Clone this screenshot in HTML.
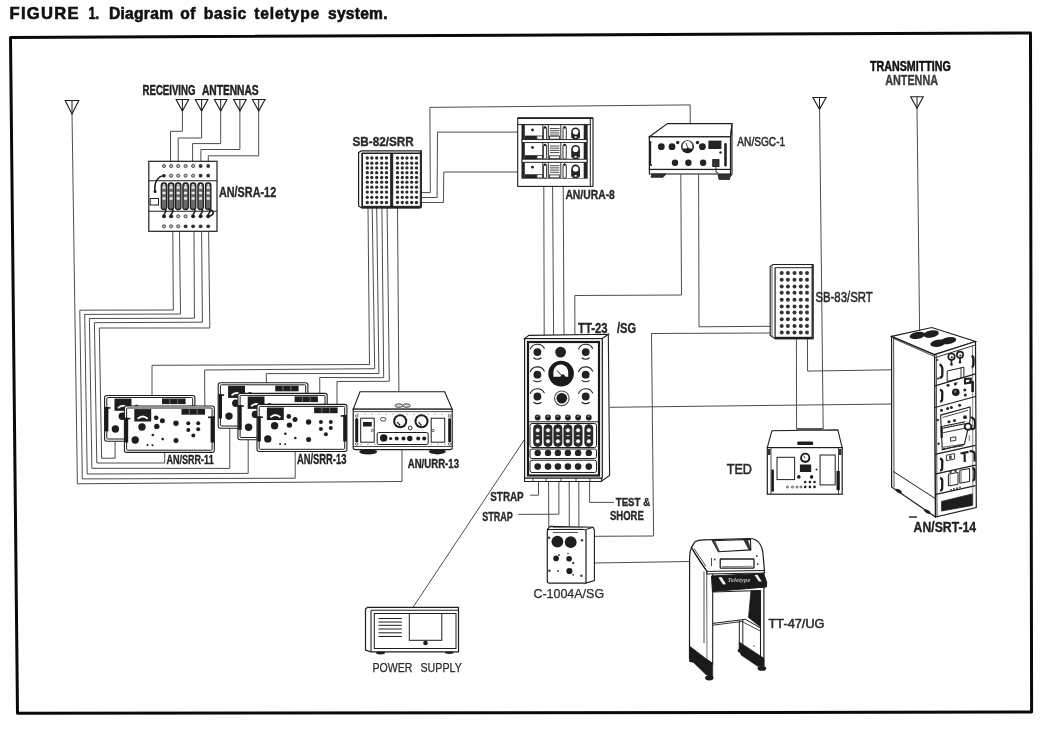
<!DOCTYPE html>
<html><head><meta charset="utf-8"><title>Figure 1</title>
<style>html,body{margin:0;padding:0;background:#fff;}svg{display:block;will-change:transform;}</style></head>
<body><svg width="1052" height="733" viewBox="0 0 1052 733" shape-rendering="geometricPrecision">
<rect width="1052" height="733" fill="#fff"/>
<text x="9.5" y="18.6" font-family="'Liberation Sans', sans-serif" font-weight="bold" font-size="16.60" textLength="69.0" lengthAdjust="spacing" fill="#111" stroke="#111" stroke-width="0.6">FIGURE</text>
<text x="88.4" y="18.6" font-family="'Liberation Sans', sans-serif" font-weight="bold" font-size="16.60" textLength="10.6" lengthAdjust="spacingAndGlyphs" fill="#111" stroke="#111" stroke-width="0.6">1.</text>
<text x="109.0" y="18.6" font-family="'Liberation Sans', sans-serif" font-weight="bold" font-size="15.60" textLength="64.0" lengthAdjust="spacing" fill="#111" stroke="#111" stroke-width="0.6">Diagram</text>
<text x="180.3" y="18.6" font-family="'Liberation Sans', sans-serif" font-weight="bold" font-size="15.60" textLength="15.2" lengthAdjust="spacing" fill="#111" stroke="#111" stroke-width="0.6">of</text>
<text x="203.8" y="18.6" font-family="'Liberation Sans', sans-serif" font-weight="bold" font-size="15.60" textLength="42.5" lengthAdjust="spacing" fill="#111" stroke="#111" stroke-width="0.6">basic</text>
<text x="254.2" y="18.6" font-family="'Liberation Sans', sans-serif" font-weight="bold" font-size="15.60" textLength="65.0" lengthAdjust="spacing" fill="#111" stroke="#111" stroke-width="0.6">teletype</text>
<text x="328.0" y="18.6" font-family="'Liberation Sans', sans-serif" font-weight="bold" font-size="15.60" textLength="59.5" lengthAdjust="spacing" fill="#111" stroke="#111" stroke-width="0.6">system.</text>
<polygon points="10.5,37.4 1030.5,32.9 1031.6,712.1 17.5,713.2" fill="none" stroke="#0a0a0a" stroke-width="3.0" stroke-linejoin="round"/>
<polygon points="65.2,100.5 78.8,100.5 72.0,114.0" fill="none" stroke="#1e1e1e" stroke-width="1.1" />
<line x1="72.0" y1="100.5" x2="72.0" y2="114.0" stroke="#1e1e1e" stroke-width="1.0"/>
<polygon points="176.1,99.5 188.7,99.5 182.4,111.0" fill="none" stroke="#1e1e1e" stroke-width="1.1" />
<line x1="182.4" y1="99.5" x2="182.4" y2="111.0" stroke="#1e1e1e" stroke-width="1.0"/>
<polygon points="195.3,99.5 207.9,99.5 201.6,111.0" fill="none" stroke="#1e1e1e" stroke-width="1.1" />
<line x1="201.6" y1="99.5" x2="201.6" y2="111.0" stroke="#1e1e1e" stroke-width="1.0"/>
<polygon points="214.4,99.5 227.0,99.5 220.7,111.0" fill="none" stroke="#1e1e1e" stroke-width="1.1" />
<line x1="220.7" y1="99.5" x2="220.7" y2="111.0" stroke="#1e1e1e" stroke-width="1.0"/>
<polygon points="233.6,99.5 246.2,99.5 239.9,111.0" fill="none" stroke="#1e1e1e" stroke-width="1.1" />
<line x1="239.9" y1="99.5" x2="239.9" y2="111.0" stroke="#1e1e1e" stroke-width="1.0"/>
<polygon points="252.4,99.5 265.0,99.5 258.7,111.0" fill="none" stroke="#1e1e1e" stroke-width="1.1" />
<line x1="258.7" y1="99.5" x2="258.7" y2="111.0" stroke="#1e1e1e" stroke-width="1.0"/>
<polygon points="812.9,97.5 826.1,97.5 819.5,109.3" fill="none" stroke="#1e1e1e" stroke-width="1.1" />
<line x1="819.5" y1="97.5" x2="819.5" y2="109.3" stroke="#1e1e1e" stroke-width="1.0"/>
<polygon points="910.7,96.8 923.3,96.8 917.0,108.3" fill="none" stroke="#1e1e1e" stroke-width="1.1" />
<line x1="917.0" y1="96.8" x2="917.0" y2="108.3" stroke="#1e1e1e" stroke-width="1.0"/>
<text x="142.6" y="94.7" font-family="'Liberation Sans', sans-serif" font-weight="bold" font-size="14.68" textLength="52.8" lengthAdjust="spacingAndGlyphs" fill="#222" stroke="#222" stroke-width="0.5">RECEIVING</text>
<text x="201.9" y="94.7" font-family="'Liberation Sans', sans-serif" font-weight="bold" font-size="14.68" textLength="56.8" lengthAdjust="spacingAndGlyphs" fill="#222" stroke="#222" stroke-width="0.5">ANTENNAS</text>
<text x="870.0" y="70.7" font-family="'Liberation Sans', sans-serif" font-weight="bold" font-size="13.81" textLength="80.8" lengthAdjust="spacingAndGlyphs" fill="#111" stroke="#111" stroke-width="0.5">TRANSMITTING</text>
<text x="885.2" y="85.4" font-family="'Liberation Sans', sans-serif" font-weight="bold" font-size="14.24" textLength="52.8" lengthAdjust="spacingAndGlyphs" fill="#3a3a3a" stroke="#3a3a3a" stroke-width="0.4">ANTENNA</text>
<polyline points="72.0,114.0 77.4,483.8 402.0,481.5 402.0,450.0" fill="none" stroke="#4d4d4d" stroke-width="1.0" />
<polyline points="182.4,111.0 182.4,131.3 170.5,131.3 170.5,161.5" fill="none" stroke="#4d4d4d" stroke-width="1.0" />
<polyline points="201.6,111.0 201.6,138.0 178.2,138.0 178.2,161.5" fill="none" stroke="#4d4d4d" stroke-width="1.0" />
<polyline points="220.7,111.0 220.7,143.6 192.6,143.6 192.6,161.5" fill="none" stroke="#4d4d4d" stroke-width="1.0" />
<polyline points="239.9,111.0 239.9,149.5 200.9,149.5 200.9,161.5" fill="none" stroke="#4d4d4d" stroke-width="1.0" />
<polyline points="258.7,111.0 258.7,155.8 208.3,155.8 208.3,161.5" fill="none" stroke="#4d4d4d" stroke-width="1.0" />
<polyline points="172.8,231.3 173.3,310.0 79.8,310.2 82.3,478.9 295.2,478.2 295.2,451.5" fill="none" stroke="#4d4d4d" stroke-width="1.0" />
<polyline points="179.5,231.3 180.5,314.0 84.7,314.4 87.2,474.0 248.2,473.4 248.2,439.7" fill="none" stroke="#4d4d4d" stroke-width="1.0" />
<polyline points="194.0,231.3 194.4,318.2 89.4,318.5 91.9,468.3 229.8,468.4 229.8,428.2" fill="none" stroke="#4d4d4d" stroke-width="1.0" />
<polyline points="201.6,231.3 202.4,322.2 94.4,322.7 96.8,463.0 164.7,463.0 164.7,452.4" fill="none" stroke="#4d4d4d" stroke-width="1.0" />
<polyline points="208.6,231.3 209.8,328.0 99.3,328.0 101.6,458.3 115.1,458.2 115.1,441.2" fill="none" stroke="#4d4d4d" stroke-width="1.0" />
<polyline points="368.0,208.0 369.5,364.5 152.0,365.3 152.0,395.5" fill="none" stroke="#4d4d4d" stroke-width="1.0" />
<polyline points="372.2,208.0 374.7,368.7 204.6,370.0 204.8,406.0" fill="none" stroke="#4d4d4d" stroke-width="1.0" />
<polyline points="376.7,208.0 378.9,373.5 266.2,373.6 266.4,382.8" fill="none" stroke="#4d4d4d" stroke-width="1.0" />
<polyline points="381.9,208.0 383.7,377.7 319.7,377.5 319.8,393.4" fill="none" stroke="#4d4d4d" stroke-width="1.0" />
<polyline points="387.1,208.0 389.3,381.3 337.0,381.5 337.0,404.4" fill="none" stroke="#4d4d4d" stroke-width="1.0" />
<polyline points="397.5,208.0 398.9,391.7" fill="none" stroke="#4d4d4d" stroke-width="1.0" />
<polyline points="421.4,192.6 430.3,192.6 429.9,107.4 690.2,104.9 690.2,123.6" fill="none" stroke="#4d4d4d" stroke-width="1.0" />
<polyline points="421.4,197.5 437.1,197.5 437.5,132.1 518.9,132.1" fill="none" stroke="#4d4d4d" stroke-width="1.0" />
<polyline points="421.4,202.5 443.4,202.5 443.8,172.0 518.9,172.0" fill="none" stroke="#4d4d4d" stroke-width="1.0" />
<polyline points="543.8,186.0 544.2,335.0" fill="none" stroke="#4d4d4d" stroke-width="1.0" />
<polyline points="552.6,186.0 553.6,335.0" fill="none" stroke="#4d4d4d" stroke-width="1.0" />
<polyline points="563.2,186.0 564.0,335.0" fill="none" stroke="#4d4d4d" stroke-width="1.0" />
<polyline points="680.8,174.5 681.5,295.0 574.8,295.5 574.9,335.0" fill="none" stroke="#4d4d4d" stroke-width="1.0" />
<polyline points="698.6,174.5 699.0,326.8 771.0,326.3" fill="none" stroke="#4d4d4d" stroke-width="1.0" />
<polyline points="771.0,333.0 651.5,333.5 653.6,536.0 594.5,536.3" fill="none" stroke="#4d4d4d" stroke-width="1.0" />
<polyline points="609.7,407.3 891.7,404.0" fill="none" stroke="#4d4d4d" stroke-width="1.0" />
<polyline points="796.4,338.7 796.6,429.0" fill="none" stroke="#4d4d4d" stroke-width="1.0" />
<polyline points="807.4,338.7 807.6,371.1 891.7,369.8" fill="none" stroke="#4d4d4d" stroke-width="1.0" />
<polyline points="819.6,109.3 823.2,429.0" fill="none" stroke="#4d4d4d" stroke-width="1.0" />
<polyline points="917.0,108.3 919.6,330.5" fill="none" stroke="#4d4d4d" stroke-width="1.0" />
<polyline points="538.5,481.0 538.5,495.2 530.0,495.2" fill="none" stroke="#4d4d4d" stroke-width="1.0" />
<polyline points="548.6,481.0 548.8,527.0" fill="none" stroke="#4d4d4d" stroke-width="1.0" />
<polyline points="558.9,481.0 558.9,514.2 518.3,514.4" fill="none" stroke="#4d4d4d" stroke-width="1.0" />
<polyline points="569.2,481.0 569.3,527.0" fill="none" stroke="#4d4d4d" stroke-width="1.0" />
<polyline points="578.8,481.0 578.9,527.5" fill="none" stroke="#4d4d4d" stroke-width="1.0" />
<polyline points="589.6,481.0 589.6,502.4 614.0,502.4" fill="none" stroke="#4d4d4d" stroke-width="1.0" />
<polyline points="525.5,438.0 413.0,607.3" fill="none" stroke="#4d4d4d" stroke-width="1.0" />
<polyline points="594.4,563.0 689.0,561.5" fill="none" stroke="#4d4d4d" stroke-width="1.0" />
<rect x="148.8" y="161.3" width="68.2" height="70.0" rx="0" fill="#fff" stroke="#1e1e1e" stroke-width="1.2"/>
<line x1="148.8" y1="180.7" x2="217.0" y2="180.7" stroke="#1e1e1e" stroke-width="1.1"/>
<line x1="148.8" y1="211.3" x2="217.0" y2="211.3" stroke="#1e1e1e" stroke-width="1.1"/>
<circle cx="164.0" cy="166.0" r="1.60" fill="#bbb" stroke="#333" stroke-width="0.8"/>
<circle cx="171.1" cy="166.0" r="1.60" fill="#bbb" stroke="#333" stroke-width="0.8"/>
<circle cx="171.1" cy="175.7" r="1.60" fill="#bbb" stroke="#333" stroke-width="0.8"/>
<circle cx="178.2" cy="166.0" r="1.60" fill="#bbb" stroke="#333" stroke-width="0.8"/>
<circle cx="178.2" cy="175.7" r="1.60" fill="#bbb" stroke="#333" stroke-width="0.8"/>
<circle cx="185.6" cy="166.0" r="1.60" fill="#bbb" stroke="#333" stroke-width="0.8"/>
<circle cx="185.6" cy="175.7" r="1.60" fill="#bbb" stroke="#333" stroke-width="0.8"/>
<circle cx="193.1" cy="166.0" r="1.60" fill="#bbb" stroke="#333" stroke-width="0.8"/>
<circle cx="193.1" cy="175.7" r="1.60" fill="#bbb" stroke="#333" stroke-width="0.8"/>
<circle cx="200.6" cy="166.0" r="1.90" fill="#333" stroke="none" stroke-width="1.0"/>
<circle cx="200.6" cy="175.7" r="1.90" fill="#333" stroke="none" stroke-width="1.0"/>
<circle cx="208.2" cy="166.0" r="1.90" fill="#333" stroke="none" stroke-width="1.0"/>
<circle cx="208.2" cy="175.7" r="1.90" fill="#333" stroke="none" stroke-width="1.0"/>
<rect x="161.3" y="183.0" width="5.4" height="26.5" rx="2.5" fill="#6a6a6a" stroke="#222" stroke-width="1.3"/>
<rect x="162.5" y="186.3" width="3.0" height="2.4" rx="0" fill="#eee"/>
<rect x="162.5" y="191.8" width="3.0" height="2.4" rx="0" fill="#eee"/>
<rect x="162.5" y="197.3" width="3.0" height="2.4" rx="0" fill="#eee"/>
<line x1="164.0" y1="184.0" x2="164.0" y2="186.0" stroke="#fff" stroke-width="1.2"/>
<rect x="168.4" y="183.0" width="5.4" height="26.5" rx="2.5" fill="#6a6a6a" stroke="#222" stroke-width="1.3"/>
<rect x="169.6" y="186.3" width="3.0" height="2.4" rx="0" fill="#eee"/>
<rect x="169.6" y="191.8" width="3.0" height="2.4" rx="0" fill="#eee"/>
<rect x="169.6" y="197.3" width="3.0" height="2.4" rx="0" fill="#eee"/>
<line x1="171.1" y1="184.0" x2="171.1" y2="186.0" stroke="#fff" stroke-width="1.2"/>
<rect x="175.5" y="183.0" width="5.4" height="26.5" rx="2.5" fill="#6a6a6a" stroke="#222" stroke-width="1.3"/>
<rect x="176.7" y="186.3" width="3.0" height="2.4" rx="0" fill="#eee"/>
<rect x="176.7" y="191.8" width="3.0" height="2.4" rx="0" fill="#eee"/>
<rect x="176.7" y="197.3" width="3.0" height="2.4" rx="0" fill="#eee"/>
<line x1="178.2" y1="184.0" x2="178.2" y2="186.0" stroke="#fff" stroke-width="1.2"/>
<rect x="182.9" y="183.0" width="5.4" height="26.5" rx="2.5" fill="#6a6a6a" stroke="#222" stroke-width="1.3"/>
<rect x="184.1" y="186.3" width="3.0" height="2.4" rx="0" fill="#eee"/>
<rect x="184.1" y="191.8" width="3.0" height="2.4" rx="0" fill="#eee"/>
<rect x="184.1" y="197.3" width="3.0" height="2.4" rx="0" fill="#eee"/>
<line x1="185.6" y1="184.0" x2="185.6" y2="186.0" stroke="#fff" stroke-width="1.2"/>
<rect x="190.4" y="183.0" width="5.4" height="26.5" rx="2.5" fill="#6a6a6a" stroke="#222" stroke-width="1.3"/>
<rect x="191.6" y="186.3" width="3.0" height="2.4" rx="0" fill="#eee"/>
<rect x="191.6" y="191.8" width="3.0" height="2.4" rx="0" fill="#eee"/>
<rect x="191.6" y="197.3" width="3.0" height="2.4" rx="0" fill="#eee"/>
<line x1="193.1" y1="184.0" x2="193.1" y2="186.0" stroke="#fff" stroke-width="1.2"/>
<rect x="197.9" y="183.0" width="5.4" height="26.5" rx="2.5" fill="#6a6a6a" stroke="#222" stroke-width="1.3"/>
<rect x="199.1" y="186.3" width="3.0" height="2.4" rx="0" fill="#eee"/>
<rect x="199.1" y="191.8" width="3.0" height="2.4" rx="0" fill="#eee"/>
<rect x="199.1" y="197.3" width="3.0" height="2.4" rx="0" fill="#eee"/>
<line x1="200.6" y1="184.0" x2="200.6" y2="186.0" stroke="#fff" stroke-width="1.2"/>
<rect x="205.5" y="183.0" width="5.4" height="26.5" rx="2.5" fill="#6a6a6a" stroke="#222" stroke-width="1.3"/>
<rect x="206.7" y="186.3" width="3.0" height="2.4" rx="0" fill="#eee"/>
<rect x="206.7" y="191.8" width="3.0" height="2.4" rx="0" fill="#eee"/>
<rect x="206.7" y="197.3" width="3.0" height="2.4" rx="0" fill="#eee"/>
<line x1="208.2" y1="184.0" x2="208.2" y2="186.0" stroke="#fff" stroke-width="1.2"/>
<path d="M164,175.7 C158,176 154,182 155,191" fill="none" stroke="#222" stroke-width="1.6"/>
<circle cx="164.0" cy="175.7" r="1.80" fill="#222" stroke="none" stroke-width="1.0"/>
<circle cx="155.0" cy="191.5" r="1.50" fill="#222" stroke="none" stroke-width="1.0"/>
<rect x="150.2" y="198.5" width="8.3" height="6.5" rx="0" fill="#fff" stroke="#1e1e1e" stroke-width="1.0"/>
<path d="M165,209 C168,212 163,213 164,216.3" fill="none" stroke="#222" stroke-width="1.6"/>
<circle cx="164.0" cy="216.3" r="2.00" fill="#222" stroke="none" stroke-width="1.0"/>
<path d="M172.1,209 C175.1,212 170.1,213 171.1,216.3" fill="none" stroke="#222" stroke-width="1.6"/>
<circle cx="171.1" cy="216.3" r="2.00" fill="#222" stroke="none" stroke-width="1.0"/>
<circle cx="178.2" cy="216.3" r="1.60" fill="#bbb" stroke="#333" stroke-width="0.8"/>
<circle cx="185.6" cy="216.3" r="1.60" fill="#bbb" stroke="#333" stroke-width="0.8"/>
<path d="M194.1,209 C197.1,212 192.1,213 193.1,216.3" fill="none" stroke="#222" stroke-width="1.6"/>
<circle cx="193.1" cy="216.3" r="2.00" fill="#222" stroke="none" stroke-width="1.0"/>
<path d="M201.6,209 C204.6,212 199.6,213 200.6,216.3" fill="none" stroke="#222" stroke-width="1.6"/>
<circle cx="200.6" cy="216.3" r="2.00" fill="#222" stroke="none" stroke-width="1.0"/>
<path d="M209.2,209 C212.2,212 207.2,213 208.2,216.3" fill="none" stroke="#222" stroke-width="1.6"/>
<circle cx="208.2" cy="216.3" r="2.00" fill="#222" stroke="none" stroke-width="1.0"/>
<path d="M208.2,209 C214,210 215,214 210,216" fill="none" stroke="#222" stroke-width="1.6"/>
<circle cx="164.0" cy="226.3" r="1.60" fill="#bbb" stroke="#333" stroke-width="0.8"/>
<circle cx="171.1" cy="226.3" r="1.60" fill="#bbb" stroke="#333" stroke-width="0.8"/>
<circle cx="178.2" cy="226.3" r="1.60" fill="#bbb" stroke="#333" stroke-width="0.8"/>
<circle cx="185.6" cy="226.3" r="1.90" fill="#333" stroke="none" stroke-width="1.0"/>
<circle cx="193.1" cy="226.3" r="1.90" fill="#333" stroke="none" stroke-width="1.0"/>
<circle cx="200.6" cy="226.3" r="1.90" fill="#333" stroke="none" stroke-width="1.0"/>
<circle cx="208.2" cy="226.3" r="1.90" fill="#333" stroke="none" stroke-width="1.0"/>
<polygon points="358.6,152.5 361.5,150.9 421.4,150.9 421.4,206.5 419.5,208.0 361.8,208.0 358.6,206.0" fill="#fff" stroke="#1e1e1e" stroke-width="1.2" />
<line x1="361.8" y1="153.0" x2="361.8" y2="208.0" stroke="#1e1e1e" stroke-width="1.0"/>
<line x1="361.8" y1="153.0" x2="421.0" y2="153.0" stroke="#1e1e1e" stroke-width="1.0"/>
<rect x="362.5" y="153.5" width="28.5" height="52.8" rx="0" fill="#fff" stroke="#1e1e1e" stroke-width="1.0"/>
<rect x="392.7" y="153.5" width="28.1" height="52.8" rx="0" fill="#fff" stroke="#1e1e1e" stroke-width="1.0"/>
<rect x="390.3" y="153.0" width="2.5" height="54.5" rx="0" fill="#222"/>
<rect x="361.8" y="206.3" width="59.6" height="2.0" rx="0" fill="#222"/>
<rect x="419.8" y="151.0" width="1.8" height="57.0" rx="0" fill="#333"/>
<circle cx="367.3" cy="158.0" r="1.65" fill="#2c2c2c" stroke="none" stroke-width="1.0"/>
<circle cx="371.8" cy="158.0" r="1.65" fill="#2c2c2c" stroke="none" stroke-width="1.0"/>
<circle cx="376.7" cy="158.0" r="1.65" fill="#2c2c2c" stroke="none" stroke-width="1.0"/>
<circle cx="381.7" cy="158.0" r="1.65" fill="#2c2c2c" stroke="none" stroke-width="1.0"/>
<circle cx="386.5" cy="158.0" r="1.65" fill="#2c2c2c" stroke="none" stroke-width="1.0"/>
<circle cx="397.5" cy="158.0" r="1.65" fill="#2c2c2c" stroke="none" stroke-width="1.0"/>
<circle cx="402.3" cy="158.0" r="1.65" fill="#2c2c2c" stroke="none" stroke-width="1.0"/>
<circle cx="406.9" cy="158.0" r="1.65" fill="#2c2c2c" stroke="none" stroke-width="1.0"/>
<circle cx="411.7" cy="158.0" r="1.65" fill="#2c2c2c" stroke="none" stroke-width="1.0"/>
<circle cx="416.5" cy="158.0" r="1.65" fill="#2c2c2c" stroke="none" stroke-width="1.0"/>
<circle cx="367.3" cy="163.2" r="1.65" fill="#2c2c2c" stroke="none" stroke-width="1.0"/>
<circle cx="371.8" cy="163.2" r="1.65" fill="#2c2c2c" stroke="none" stroke-width="1.0"/>
<circle cx="376.7" cy="163.2" r="1.65" fill="#2c2c2c" stroke="none" stroke-width="1.0"/>
<circle cx="381.7" cy="163.2" r="1.65" fill="#2c2c2c" stroke="none" stroke-width="1.0"/>
<circle cx="386.5" cy="163.2" r="1.65" fill="#2c2c2c" stroke="none" stroke-width="1.0"/>
<circle cx="397.5" cy="163.2" r="1.65" fill="#2c2c2c" stroke="none" stroke-width="1.0"/>
<circle cx="402.3" cy="163.2" r="1.65" fill="#2c2c2c" stroke="none" stroke-width="1.0"/>
<circle cx="406.9" cy="163.2" r="1.65" fill="#2c2c2c" stroke="none" stroke-width="1.0"/>
<circle cx="411.7" cy="163.2" r="1.65" fill="#2c2c2c" stroke="none" stroke-width="1.0"/>
<circle cx="416.5" cy="163.2" r="1.65" fill="#2c2c2c" stroke="none" stroke-width="1.0"/>
<circle cx="367.3" cy="167.9" r="1.65" fill="#2c2c2c" stroke="none" stroke-width="1.0"/>
<circle cx="371.8" cy="167.9" r="1.65" fill="#2c2c2c" stroke="none" stroke-width="1.0"/>
<circle cx="376.7" cy="167.9" r="1.65" fill="#2c2c2c" stroke="none" stroke-width="1.0"/>
<circle cx="381.7" cy="167.9" r="1.65" fill="#2c2c2c" stroke="none" stroke-width="1.0"/>
<circle cx="386.5" cy="167.9" r="1.65" fill="#2c2c2c" stroke="none" stroke-width="1.0"/>
<circle cx="397.5" cy="167.9" r="1.65" fill="#2c2c2c" stroke="none" stroke-width="1.0"/>
<circle cx="402.3" cy="167.9" r="1.65" fill="#2c2c2c" stroke="none" stroke-width="1.0"/>
<circle cx="406.9" cy="167.9" r="1.65" fill="#2c2c2c" stroke="none" stroke-width="1.0"/>
<circle cx="411.7" cy="167.9" r="1.65" fill="#2c2c2c" stroke="none" stroke-width="1.0"/>
<circle cx="416.5" cy="167.9" r="1.65" fill="#2c2c2c" stroke="none" stroke-width="1.0"/>
<circle cx="367.3" cy="172.7" r="1.65" fill="#2c2c2c" stroke="none" stroke-width="1.0"/>
<circle cx="371.8" cy="172.7" r="1.65" fill="#2c2c2c" stroke="none" stroke-width="1.0"/>
<circle cx="376.7" cy="172.7" r="1.65" fill="#2c2c2c" stroke="none" stroke-width="1.0"/>
<circle cx="381.7" cy="172.7" r="1.65" fill="#2c2c2c" stroke="none" stroke-width="1.0"/>
<circle cx="386.5" cy="172.7" r="1.65" fill="#2c2c2c" stroke="none" stroke-width="1.0"/>
<circle cx="397.5" cy="172.7" r="1.65" fill="#2c2c2c" stroke="none" stroke-width="1.0"/>
<circle cx="402.3" cy="172.7" r="1.65" fill="#2c2c2c" stroke="none" stroke-width="1.0"/>
<circle cx="406.9" cy="172.7" r="1.65" fill="#2c2c2c" stroke="none" stroke-width="1.0"/>
<circle cx="411.7" cy="172.7" r="1.65" fill="#2c2c2c" stroke="none" stroke-width="1.0"/>
<circle cx="416.5" cy="172.7" r="1.65" fill="#2c2c2c" stroke="none" stroke-width="1.0"/>
<circle cx="367.3" cy="177.5" r="1.65" fill="#2c2c2c" stroke="none" stroke-width="1.0"/>
<circle cx="371.8" cy="177.5" r="1.65" fill="#2c2c2c" stroke="none" stroke-width="1.0"/>
<circle cx="376.7" cy="177.5" r="1.65" fill="#2c2c2c" stroke="none" stroke-width="1.0"/>
<circle cx="381.7" cy="177.5" r="1.65" fill="#2c2c2c" stroke="none" stroke-width="1.0"/>
<circle cx="386.5" cy="177.5" r="1.65" fill="#2c2c2c" stroke="none" stroke-width="1.0"/>
<circle cx="397.5" cy="177.5" r="1.65" fill="#2c2c2c" stroke="none" stroke-width="1.0"/>
<circle cx="402.3" cy="177.5" r="1.65" fill="#2c2c2c" stroke="none" stroke-width="1.0"/>
<circle cx="406.9" cy="177.5" r="1.65" fill="#2c2c2c" stroke="none" stroke-width="1.0"/>
<circle cx="411.7" cy="177.5" r="1.65" fill="#2c2c2c" stroke="none" stroke-width="1.0"/>
<circle cx="416.5" cy="177.5" r="1.65" fill="#2c2c2c" stroke="none" stroke-width="1.0"/>
<circle cx="367.3" cy="182.2" r="1.65" fill="#2c2c2c" stroke="none" stroke-width="1.0"/>
<circle cx="371.8" cy="182.2" r="1.65" fill="#2c2c2c" stroke="none" stroke-width="1.0"/>
<circle cx="376.7" cy="182.2" r="1.65" fill="#2c2c2c" stroke="none" stroke-width="1.0"/>
<circle cx="381.7" cy="182.2" r="1.65" fill="#2c2c2c" stroke="none" stroke-width="1.0"/>
<circle cx="386.5" cy="182.2" r="1.65" fill="#2c2c2c" stroke="none" stroke-width="1.0"/>
<circle cx="397.5" cy="182.2" r="1.65" fill="#2c2c2c" stroke="none" stroke-width="1.0"/>
<circle cx="402.3" cy="182.2" r="1.65" fill="#2c2c2c" stroke="none" stroke-width="1.0"/>
<circle cx="406.9" cy="182.2" r="1.65" fill="#2c2c2c" stroke="none" stroke-width="1.0"/>
<circle cx="411.7" cy="182.2" r="1.65" fill="#2c2c2c" stroke="none" stroke-width="1.0"/>
<circle cx="416.5" cy="182.2" r="1.65" fill="#2c2c2c" stroke="none" stroke-width="1.0"/>
<circle cx="367.3" cy="187.2" r="1.65" fill="#2c2c2c" stroke="none" stroke-width="1.0"/>
<circle cx="371.8" cy="187.2" r="1.65" fill="#2c2c2c" stroke="none" stroke-width="1.0"/>
<circle cx="376.7" cy="187.2" r="1.65" fill="#2c2c2c" stroke="none" stroke-width="1.0"/>
<circle cx="381.7" cy="187.2" r="1.65" fill="#2c2c2c" stroke="none" stroke-width="1.0"/>
<circle cx="386.5" cy="187.2" r="1.65" fill="#2c2c2c" stroke="none" stroke-width="1.0"/>
<circle cx="397.5" cy="187.2" r="1.65" fill="#2c2c2c" stroke="none" stroke-width="1.0"/>
<circle cx="402.3" cy="187.2" r="1.65" fill="#2c2c2c" stroke="none" stroke-width="1.0"/>
<circle cx="406.9" cy="187.2" r="1.65" fill="#2c2c2c" stroke="none" stroke-width="1.0"/>
<circle cx="411.7" cy="187.2" r="1.65" fill="#2c2c2c" stroke="none" stroke-width="1.0"/>
<circle cx="416.5" cy="187.2" r="1.65" fill="#2c2c2c" stroke="none" stroke-width="1.0"/>
<circle cx="367.3" cy="192.1" r="1.65" fill="#2c2c2c" stroke="none" stroke-width="1.0"/>
<circle cx="371.8" cy="192.1" r="1.65" fill="#2c2c2c" stroke="none" stroke-width="1.0"/>
<circle cx="376.7" cy="192.1" r="1.65" fill="#2c2c2c" stroke="none" stroke-width="1.0"/>
<circle cx="381.7" cy="192.1" r="1.65" fill="#2c2c2c" stroke="none" stroke-width="1.0"/>
<circle cx="386.5" cy="192.1" r="1.65" fill="#2c2c2c" stroke="none" stroke-width="1.0"/>
<circle cx="397.5" cy="192.1" r="1.65" fill="#2c2c2c" stroke="none" stroke-width="1.0"/>
<circle cx="402.3" cy="192.1" r="1.65" fill="#2c2c2c" stroke="none" stroke-width="1.0"/>
<circle cx="406.9" cy="192.1" r="1.65" fill="#2c2c2c" stroke="none" stroke-width="1.0"/>
<circle cx="411.7" cy="192.1" r="1.65" fill="#2c2c2c" stroke="none" stroke-width="1.0"/>
<circle cx="416.5" cy="192.1" r="1.65" fill="#2c2c2c" stroke="none" stroke-width="1.0"/>
<circle cx="367.3" cy="197.3" r="1.65" fill="#2c2c2c" stroke="none" stroke-width="1.0"/>
<circle cx="371.8" cy="197.3" r="1.65" fill="#2c2c2c" stroke="none" stroke-width="1.0"/>
<circle cx="376.7" cy="197.3" r="1.65" fill="#2c2c2c" stroke="none" stroke-width="1.0"/>
<circle cx="381.7" cy="197.3" r="1.65" fill="#2c2c2c" stroke="none" stroke-width="1.0"/>
<circle cx="386.5" cy="197.3" r="1.65" fill="#2c2c2c" stroke="none" stroke-width="1.0"/>
<circle cx="397.5" cy="197.3" r="1.65" fill="#2c2c2c" stroke="none" stroke-width="1.0"/>
<circle cx="402.3" cy="197.3" r="1.65" fill="#2c2c2c" stroke="none" stroke-width="1.0"/>
<circle cx="406.9" cy="197.3" r="1.65" fill="#2c2c2c" stroke="none" stroke-width="1.0"/>
<circle cx="411.7" cy="197.3" r="1.65" fill="#2c2c2c" stroke="none" stroke-width="1.0"/>
<circle cx="416.5" cy="197.3" r="1.65" fill="#2c2c2c" stroke="none" stroke-width="1.0"/>
<circle cx="367.3" cy="202.5" r="1.65" fill="#2c2c2c" stroke="none" stroke-width="1.0"/>
<circle cx="371.8" cy="202.5" r="1.65" fill="#2c2c2c" stroke="none" stroke-width="1.0"/>
<circle cx="376.7" cy="202.5" r="1.65" fill="#2c2c2c" stroke="none" stroke-width="1.0"/>
<circle cx="381.7" cy="202.5" r="1.65" fill="#2c2c2c" stroke="none" stroke-width="1.0"/>
<circle cx="386.5" cy="202.5" r="1.65" fill="#2c2c2c" stroke="none" stroke-width="1.0"/>
<circle cx="397.5" cy="202.5" r="1.65" fill="#2c2c2c" stroke="none" stroke-width="1.0"/>
<circle cx="402.3" cy="202.5" r="1.65" fill="#2c2c2c" stroke="none" stroke-width="1.0"/>
<circle cx="406.9" cy="202.5" r="1.65" fill="#2c2c2c" stroke="none" stroke-width="1.0"/>
<circle cx="411.7" cy="202.5" r="1.65" fill="#2c2c2c" stroke="none" stroke-width="1.0"/>
<circle cx="416.5" cy="202.5" r="1.65" fill="#2c2c2c" stroke="none" stroke-width="1.0"/>
<rect x="517.7" y="118.2" width="75.3" height="68.2" rx="0" fill="#fff" stroke="#1e1e1e" stroke-width="1.1"/>
<line x1="517.7" y1="118.2" x2="593.0" y2="118.2" stroke="#1e1e1e" stroke-width="1.8"/>
<line x1="517.7" y1="124.6" x2="590.3" y2="124.6" stroke="#1e1e1e" stroke-width="1.0"/>
<line x1="590.3" y1="118.2" x2="590.3" y2="186.4" stroke="#1e1e1e" stroke-width="1.0"/>
<rect x="521.5" y="124.7" width="66.1" height="54.0" rx="0" fill="#222"/>
<rect x="524.8" y="125.2" width="58.9" height="14.3" rx="0" fill="#fff"/>
<circle cx="532.5" cy="130.0" r="1.40" fill="#222" stroke="none" stroke-width="1.0"/>
<rect x="524.8" y="135.6" width="12.0" height="3.9" rx="0" fill="#222"/>
<rect x="537.0" y="136.0" width="5.6" height="3.2" rx="0" fill="#fff" stroke="#1e1e1e" stroke-width="0.7"/>
<line x1="542.8" y1="125.2" x2="542.8" y2="139.5" stroke="#1e1e1e" stroke-width="0.9"/>
<rect x="543.4" y="127.0" width="3.2" height="12.5" rx="1.2" fill="#fff" stroke="#1e1e1e" stroke-width="0.9"/>
<circle cx="545.0" cy="127.5" r="1.20" fill="#222" stroke="none" stroke-width="1.0"/>
<line x1="548.3" y1="125.2" x2="548.3" y2="139.5" stroke="#1e1e1e" stroke-width="0.9"/>
<line x1="560.8" y1="125.2" x2="560.8" y2="139.5" stroke="#1e1e1e" stroke-width="0.9"/>
<line x1="549.8" y1="128.5" x2="559.4" y2="128.5" stroke="#1e1e1e" stroke-width="0.8"/>
<line x1="549.8" y1="130.7" x2="559.4" y2="130.7" stroke="#1e1e1e" stroke-width="0.8"/>
<line x1="549.8" y1="132.9" x2="559.4" y2="132.9" stroke="#1e1e1e" stroke-width="0.8"/>
<line x1="549.8" y1="135.1" x2="559.4" y2="135.1" stroke="#1e1e1e" stroke-width="0.8"/>
<rect x="549.5" y="136.2" width="10.1" height="2.9" rx="0" fill="#fff" stroke="#1e1e1e" stroke-width="0.8"/>
<rect x="563.0" y="127.0" width="3.3" height="12.5" rx="1.2" fill="#fff" stroke="#1e1e1e" stroke-width="0.9"/>
<circle cx="564.6" cy="127.5" r="1.20" fill="#222" stroke="none" stroke-width="1.0"/>
<path d="M571.2,138.0 L571.2,131.8 A4.4,4.4 0 0 1 580,131.8 L580,138.0 Z" fill="#222" stroke="#1e1e1e" stroke-width="0"/>
<circle cx="575.6" cy="131.8" r="2.80" fill="#fff" stroke="none" stroke-width="1.0"/>
<rect x="574.6" y="136.3" width="2.0" height="3.2" rx="0" fill="#fff"/>
<rect x="572.6" y="137.9" width="6.0" height="1.6" rx="0" fill="#222"/>
<rect x="524.8" y="142.7" width="58.9" height="16.4" rx="0" fill="#fff"/>
<circle cx="532.5" cy="147.5" r="1.40" fill="#222" stroke="none" stroke-width="1.0"/>
<rect x="524.8" y="155.2" width="12.0" height="3.9" rx="0" fill="#222"/>
<rect x="537.0" y="155.6" width="5.6" height="3.2" rx="0" fill="#fff" stroke="#1e1e1e" stroke-width="0.7"/>
<line x1="542.8" y1="142.7" x2="542.8" y2="159.1" stroke="#1e1e1e" stroke-width="0.9"/>
<rect x="543.4" y="144.5" width="3.2" height="14.6" rx="1.2" fill="#fff" stroke="#1e1e1e" stroke-width="0.9"/>
<circle cx="545.0" cy="145.0" r="1.20" fill="#222" stroke="none" stroke-width="1.0"/>
<line x1="548.3" y1="142.7" x2="548.3" y2="159.1" stroke="#1e1e1e" stroke-width="0.9"/>
<line x1="560.8" y1="142.7" x2="560.8" y2="159.1" stroke="#1e1e1e" stroke-width="0.9"/>
<line x1="549.8" y1="146.0" x2="559.4" y2="146.0" stroke="#1e1e1e" stroke-width="0.8"/>
<line x1="549.8" y1="148.2" x2="559.4" y2="148.2" stroke="#1e1e1e" stroke-width="0.8"/>
<line x1="549.8" y1="150.4" x2="559.4" y2="150.4" stroke="#1e1e1e" stroke-width="0.8"/>
<line x1="549.8" y1="152.6" x2="559.4" y2="152.6" stroke="#1e1e1e" stroke-width="0.8"/>
<rect x="549.5" y="155.8" width="10.1" height="2.9" rx="0" fill="#fff" stroke="#1e1e1e" stroke-width="0.8"/>
<rect x="563.0" y="144.5" width="3.3" height="14.6" rx="1.2" fill="#fff" stroke="#1e1e1e" stroke-width="0.9"/>
<circle cx="564.6" cy="145.0" r="1.20" fill="#222" stroke="none" stroke-width="1.0"/>
<path d="M571.2,157.6 L571.2,149.29999999999998 A4.4,4.4 0 0 1 580,149.29999999999998 L580,157.6 Z" fill="#222" stroke="#1e1e1e" stroke-width="0"/>
<circle cx="575.6" cy="149.3" r="2.80" fill="#fff" stroke="none" stroke-width="1.0"/>
<rect x="574.6" y="155.9" width="2.0" height="3.2" rx="0" fill="#fff"/>
<rect x="572.6" y="157.5" width="6.0" height="1.6" rx="0" fill="#222"/>
<rect x="524.8" y="162.4" width="58.9" height="15.8" rx="0" fill="#fff"/>
<circle cx="532.5" cy="167.2" r="1.40" fill="#222" stroke="none" stroke-width="1.0"/>
<rect x="524.8" y="174.3" width="12.0" height="3.9" rx="0" fill="#222"/>
<rect x="537.0" y="174.7" width="5.6" height="3.2" rx="0" fill="#fff" stroke="#1e1e1e" stroke-width="0.7"/>
<line x1="542.8" y1="162.4" x2="542.8" y2="178.2" stroke="#1e1e1e" stroke-width="0.9"/>
<rect x="543.4" y="164.2" width="3.2" height="14.0" rx="1.2" fill="#fff" stroke="#1e1e1e" stroke-width="0.9"/>
<circle cx="545.0" cy="164.7" r="1.20" fill="#222" stroke="none" stroke-width="1.0"/>
<line x1="548.3" y1="162.4" x2="548.3" y2="178.2" stroke="#1e1e1e" stroke-width="0.9"/>
<line x1="560.8" y1="162.4" x2="560.8" y2="178.2" stroke="#1e1e1e" stroke-width="0.9"/>
<line x1="549.8" y1="165.7" x2="559.4" y2="165.7" stroke="#1e1e1e" stroke-width="0.8"/>
<line x1="549.8" y1="167.9" x2="559.4" y2="167.9" stroke="#1e1e1e" stroke-width="0.8"/>
<line x1="549.8" y1="170.1" x2="559.4" y2="170.1" stroke="#1e1e1e" stroke-width="0.8"/>
<line x1="549.8" y1="172.3" x2="559.4" y2="172.3" stroke="#1e1e1e" stroke-width="0.8"/>
<rect x="549.5" y="174.9" width="10.1" height="2.9" rx="0" fill="#fff" stroke="#1e1e1e" stroke-width="0.8"/>
<rect x="563.0" y="164.2" width="3.3" height="14.0" rx="1.2" fill="#fff" stroke="#1e1e1e" stroke-width="0.9"/>
<circle cx="564.6" cy="164.7" r="1.20" fill="#222" stroke="none" stroke-width="1.0"/>
<path d="M571.2,176.7 L571.2,169.0 A4.4,4.4 0 0 1 580,169.0 L580,176.7 Z" fill="#222" stroke="#1e1e1e" stroke-width="0"/>
<circle cx="575.6" cy="169.0" r="2.80" fill="#fff" stroke="none" stroke-width="1.0"/>
<rect x="574.6" y="175.0" width="2.0" height="3.2" rx="0" fill="#fff"/>
<rect x="572.6" y="176.6" width="6.0" height="1.6" rx="0" fill="#222"/>
<rect x="522.0" y="139.6" width="65.0" height="3.0" rx="0" fill="#fff" stroke="#1e1e1e" stroke-width="0.9"/>
<rect x="522.0" y="159.2" width="65.0" height="3.1" rx="0" fill="#fff" stroke="#1e1e1e" stroke-width="0.9"/>
<polygon points="649.4,136.8 667.4,123.6 732.0,123.6 730.5,136.8" fill="#fff" stroke="#1e1e1e" stroke-width="1.1" />
<polygon points="730.5,136.8 732.0,123.6 732.0,174.0 730.5,176.0" fill="#fff" stroke="#1e1e1e" stroke-width="1.1" />
<rect x="649.4" y="136.8" width="81.1" height="32.7" rx="0" fill="#fff" stroke="#1e1e1e" stroke-width="1.3"/>
<rect x="649.4" y="169.5" width="81.1" height="4.5" rx="0" fill="#fff" stroke="#1e1e1e" stroke-width="1.1"/>
<polygon points="652.0,174.0 666.0,174.0 663.0,177.3 651.0,177.3" fill="#333" stroke="#1e1e1e" stroke-width="0.8" />
<polygon points="718.0,174.5 729.7,174.5 729.7,179.4 719.0,179.4" fill="#333" stroke="#1e1e1e" stroke-width="0.8" />
<circle cx="661.3" cy="146.7" r="3.40" fill="#222" stroke="none" stroke-width="1.0"/>
<circle cx="672.0" cy="146.7" r="3.40" fill="#222" stroke="none" stroke-width="1.0"/>
<circle cx="702.4" cy="146.7" r="3.40" fill="#222" stroke="none" stroke-width="1.0"/>
<circle cx="677.7" cy="142.5" r="1.70" fill="#222" stroke="none" stroke-width="1.0"/>
<circle cx="697.5" cy="142.5" r="1.70" fill="#222" stroke="none" stroke-width="1.0"/>
<circle cx="687.5" cy="146.7" r="6.50" fill="#1e1e1e" stroke="none" stroke-width="1.0"/>
<path d="M682.6,148.5 L682.6,146 A4.9,4.9 0 0 1 692.4,146 L692.4,148.5 L689.5,148.5 Q688,146.5 686.5,148.5 Z" fill="#fff" stroke="#1e1e1e" stroke-width="0"/>
<line x1="687.8" y1="148.0" x2="686.0" y2="142.8" stroke="#1e1e1e" stroke-width="0.8"/>
<rect x="708.4" y="140.6" width="13.0" height="8.4" rx="0" fill="#222"/>
<circle cx="675.0" cy="162.7" r="3.20" fill="#222" stroke="none" stroke-width="1.0"/>
<circle cx="688.4" cy="162.7" r="3.20" fill="#222" stroke="none" stroke-width="1.0"/>
<circle cx="703.1" cy="162.7" r="3.20" fill="#222" stroke="none" stroke-width="1.0"/>
<rect x="712.7" y="159.6" width="6.3" height="6.9" rx="0" fill="#333" stroke="#1e1e1e" stroke-width="0.9"/>
<path d="M716,166.5 L716,172 L718,173" fill="none" stroke="#1e1e1e" stroke-width="0.9"/>
<rect x="724.2" y="143.0" width="2.6" height="23.5" rx="1.2" fill="#222"/>
<circle cx="720.5" cy="152.5" r="1.20" fill="#222" stroke="none" stroke-width="1.0"/>
<path d="M651.5,142 L650.5,142 L650.5,165 L652,165" fill="none" stroke="#1e1e1e" stroke-width="1.3"/>
<polygon points="524.6,338.6 528.8,335.4 608.3,334.3 602.3,338.6" fill="#fff" stroke="#1e1e1e" stroke-width="1.1" />
<polygon points="602.3,338.6 608.3,334.3 609.6,475.5 601.4,481.3" fill="#fff" stroke="#1e1e1e" stroke-width="1.1" />
<line x1="599.2" y1="339.0" x2="599.2" y2="478.0" stroke="#1e1e1e" stroke-width="0.9"/>
<rect x="524.6" y="338.6" width="77.7" height="139.6" rx="0" fill="#fff" stroke="#1e1e1e" stroke-width="1.2"/>
<rect x="524.5" y="478.2" width="76.9" height="3.3" rx="0" fill="#fff" stroke="#1e1e1e" stroke-width="1.0"/>
<line x1="533.0" y1="478.2" x2="533.0" y2="481.5" stroke="#1e1e1e" stroke-width="0.8"/>
<line x1="546.0" y1="478.2" x2="546.0" y2="481.5" stroke="#1e1e1e" stroke-width="0.8"/>
<line x1="561.0" y1="478.2" x2="561.0" y2="481.5" stroke="#1e1e1e" stroke-width="0.8"/>
<line x1="576.0" y1="478.2" x2="576.0" y2="481.5" stroke="#1e1e1e" stroke-width="0.8"/>
<line x1="590.0" y1="478.2" x2="590.0" y2="481.5" stroke="#1e1e1e" stroke-width="0.8"/>
<rect x="528.0" y="342.0" width="71.0" height="133.5" rx="0" fill="none" stroke="#1a1a1a" stroke-width="2.2"/>
<circle cx="537.4" cy="352.1" r="3.90" fill="#222" stroke="none" stroke-width="1.0"/>
<path d="M530.1,349.4 A7.8,7.8 0 0 1 544.5,348.8" fill="none" stroke="#1e1e1e" stroke-width="1.1"/>
<path d="M541.4,357.8 A7.0,7.0 0 0 1 533.4,357.8" fill="none" stroke="#1e1e1e" stroke-width="1.1"/>
<circle cx="537.4" cy="374.7" r="3.90" fill="#222" stroke="none" stroke-width="1.0"/>
<path d="M530.1,372.0 A7.8,7.8 0 0 1 544.5,371.4" fill="none" stroke="#1e1e1e" stroke-width="1.1"/>
<path d="M541.4,380.4 A7.0,7.0 0 0 1 533.4,380.4" fill="none" stroke="#1e1e1e" stroke-width="1.1"/>
<circle cx="537.4" cy="396.5" r="3.90" fill="#222" stroke="none" stroke-width="1.0"/>
<path d="M530.1,393.8 A7.8,7.8 0 0 1 544.5,393.2" fill="none" stroke="#1e1e1e" stroke-width="1.1"/>
<path d="M541.4,402.2 A7.0,7.0 0 0 1 533.4,402.2" fill="none" stroke="#1e1e1e" stroke-width="1.1"/>
<circle cx="585.7" cy="352.1" r="3.90" fill="#222" stroke="none" stroke-width="1.0"/>
<path d="M578.4,349.4 A7.8,7.8 0 0 1 592.8,348.8" fill="none" stroke="#1e1e1e" stroke-width="1.1"/>
<path d="M589.7,357.8 A7.0,7.0 0 0 1 581.7,357.8" fill="none" stroke="#1e1e1e" stroke-width="1.1"/>
<circle cx="585.7" cy="374.7" r="3.90" fill="#222" stroke="none" stroke-width="1.0"/>
<path d="M578.4,372.0 A7.8,7.8 0 0 1 592.8,371.4" fill="none" stroke="#1e1e1e" stroke-width="1.1"/>
<path d="M589.7,380.4 A7.0,7.0 0 0 1 581.7,380.4" fill="none" stroke="#1e1e1e" stroke-width="1.1"/>
<circle cx="585.7" cy="396.5" r="3.90" fill="#222" stroke="none" stroke-width="1.0"/>
<path d="M578.4,393.8 A7.8,7.8 0 0 1 592.8,393.2" fill="none" stroke="#1e1e1e" stroke-width="1.1"/>
<path d="M589.7,402.2 A7.0,7.0 0 0 1 581.7,402.2" fill="none" stroke="#1e1e1e" stroke-width="1.1"/>
<circle cx="560.6" cy="352.1" r="5.40" fill="#222" stroke="none" stroke-width="1.0"/>
<circle cx="561.1" cy="373.6" r="12.80" fill="#1a1a1a" stroke="none" stroke-width="1.0"/>
<path d="M553.4,376.8 L553.4,372 A7.4,7.4 0 0 1 568.2,372 L568.2,376.8 L565.5,376.8 Q564.5,374 562.5,374.2 Q561,374 560.5,376.8 Z" fill="#fff" stroke="#1e1e1e" stroke-width="0"/>
<line x1="561.5" y1="375.5" x2="557.0" y2="370.5" stroke="#1e1e1e" stroke-width="1.0"/>
<circle cx="561.8" cy="398.3" r="7.30" fill="#fff" stroke="#555" stroke-width="1.2"/>
<circle cx="561.8" cy="398.3" r="5.30" fill="#1e1e1e" stroke="none" stroke-width="1.0"/>
<circle cx="537.7" cy="417.5" r="2.90" fill="#222" stroke="none" stroke-width="1.0"/>
<line x1="536.5" y1="416.5" x2="538.7" y2="415.8" stroke="#fff" stroke-width="0.6"/>
<circle cx="548.0" cy="417.5" r="2.90" fill="#222" stroke="none" stroke-width="1.0"/>
<line x1="546.8" y1="416.5" x2="549.0" y2="415.8" stroke="#fff" stroke-width="0.6"/>
<circle cx="557.9" cy="417.5" r="2.90" fill="#222" stroke="none" stroke-width="1.0"/>
<line x1="556.7" y1="416.5" x2="558.9" y2="415.8" stroke="#fff" stroke-width="0.6"/>
<circle cx="567.9" cy="417.5" r="2.90" fill="#222" stroke="none" stroke-width="1.0"/>
<line x1="566.7" y1="416.5" x2="568.9" y2="415.8" stroke="#fff" stroke-width="0.6"/>
<circle cx="578.1" cy="417.5" r="2.90" fill="#222" stroke="none" stroke-width="1.0"/>
<line x1="576.9" y1="416.5" x2="579.1" y2="415.8" stroke="#fff" stroke-width="0.6"/>
<circle cx="588.8" cy="417.5" r="2.90" fill="#222" stroke="none" stroke-width="1.0"/>
<line x1="587.6" y1="416.5" x2="589.8" y2="415.8" stroke="#fff" stroke-width="0.6"/>
<line x1="528.5" y1="421.8" x2="598.0" y2="421.8" stroke="#1e1e1e" stroke-width="1.0"/>
<rect x="530.0" y="423.5" width="66.5" height="24.0" rx="2" fill="#fff" stroke="#1e1e1e" stroke-width="1.0"/>
<rect x="533.8" y="424.8" width="7.8" height="21.5" rx="3.2" fill="#2a2a2a" stroke="#1e1e1e" stroke-width="1.0"/>
<circle cx="537.7" cy="430.2" r="2.30" fill="#fff" stroke="#222" stroke-width="0.6"/>
<circle cx="537.7" cy="441.2" r="2.30" fill="#fff" stroke="#222" stroke-width="0.6"/>
<line x1="536.2" y1="435.7" x2="539.2" y2="435.7" stroke="#fff" stroke-width="1.0"/>
<rect x="544.1" y="424.8" width="7.8" height="21.5" rx="3.2" fill="#2a2a2a" stroke="#1e1e1e" stroke-width="1.0"/>
<circle cx="548.0" cy="430.2" r="2.30" fill="#fff" stroke="#222" stroke-width="0.6"/>
<circle cx="548.0" cy="441.2" r="2.30" fill="#fff" stroke="#222" stroke-width="0.6"/>
<line x1="546.5" y1="435.7" x2="549.5" y2="435.7" stroke="#fff" stroke-width="1.0"/>
<rect x="554.0" y="424.8" width="7.8" height="21.5" rx="3.2" fill="#2a2a2a" stroke="#1e1e1e" stroke-width="1.0"/>
<circle cx="557.9" cy="430.2" r="2.30" fill="#fff" stroke="#222" stroke-width="0.6"/>
<circle cx="557.9" cy="441.2" r="2.30" fill="#fff" stroke="#222" stroke-width="0.6"/>
<line x1="556.4" y1="435.7" x2="559.4" y2="435.7" stroke="#fff" stroke-width="1.0"/>
<rect x="564.0" y="424.8" width="7.8" height="21.5" rx="3.2" fill="#2a2a2a" stroke="#1e1e1e" stroke-width="1.0"/>
<circle cx="567.9" cy="430.2" r="2.30" fill="#fff" stroke="#222" stroke-width="0.6"/>
<circle cx="567.9" cy="441.2" r="2.30" fill="#fff" stroke="#222" stroke-width="0.6"/>
<line x1="566.4" y1="435.7" x2="569.4" y2="435.7" stroke="#fff" stroke-width="1.0"/>
<rect x="574.2" y="424.8" width="7.8" height="21.5" rx="3.2" fill="#2a2a2a" stroke="#1e1e1e" stroke-width="1.0"/>
<circle cx="578.1" cy="430.2" r="2.30" fill="#fff" stroke="#222" stroke-width="0.6"/>
<circle cx="578.1" cy="441.2" r="2.30" fill="#fff" stroke="#222" stroke-width="0.6"/>
<line x1="576.6" y1="435.7" x2="579.6" y2="435.7" stroke="#fff" stroke-width="1.0"/>
<rect x="584.9" y="424.8" width="7.8" height="21.5" rx="3.2" fill="#2a2a2a" stroke="#1e1e1e" stroke-width="1.0"/>
<circle cx="588.8" cy="430.2" r="2.30" fill="#fff" stroke="#222" stroke-width="0.6"/>
<circle cx="588.8" cy="441.2" r="2.30" fill="#fff" stroke="#222" stroke-width="0.6"/>
<line x1="587.3" y1="435.7" x2="590.3" y2="435.7" stroke="#fff" stroke-width="1.0"/>
<rect x="530.0" y="449.0" width="66.5" height="9.5" rx="2" fill="#fff" stroke="#1e1e1e" stroke-width="1.0"/>
<rect x="530.0" y="460.2" width="66.5" height="12.3" rx="2" fill="#fff" stroke="#1e1e1e" stroke-width="1.0"/>
<circle cx="537.7" cy="452.9" r="3.20" fill="#222" stroke="none" stroke-width="1.0"/>
<circle cx="537.7" cy="466.6" r="3.30" fill="#222" stroke="none" stroke-width="1.0"/>
<circle cx="548.0" cy="452.9" r="3.20" fill="#222" stroke="none" stroke-width="1.0"/>
<circle cx="548.0" cy="466.6" r="3.30" fill="#222" stroke="none" stroke-width="1.0"/>
<circle cx="557.9" cy="452.9" r="3.20" fill="#222" stroke="none" stroke-width="1.0"/>
<circle cx="557.9" cy="466.6" r="3.30" fill="#222" stroke="none" stroke-width="1.0"/>
<circle cx="567.9" cy="452.9" r="3.20" fill="#222" stroke="none" stroke-width="1.0"/>
<circle cx="567.9" cy="466.6" r="3.30" fill="#222" stroke="none" stroke-width="1.0"/>
<circle cx="578.1" cy="452.9" r="3.20" fill="#222" stroke="none" stroke-width="1.0"/>
<circle cx="578.1" cy="466.6" r="3.30" fill="#222" stroke="none" stroke-width="1.0"/>
<circle cx="588.8" cy="452.9" r="3.20" fill="#222" stroke="none" stroke-width="1.0"/>
<circle cx="588.8" cy="466.6" r="3.30" fill="#222" stroke="none" stroke-width="1.0"/>
<rect x="104.6" y="395.5" width="90.3" height="45.7" rx="2.2" fill="#fff" stroke="#1e1e1e" stroke-width="1.1"/>
<rect x="106.8" y="397.5" width="85.9" height="41.5" rx="1" fill="#fff" stroke="#1e1e1e" stroke-width="1.0"/>
<rect x="114.5" y="398.6" width="17.0" height="12.2" rx="0" fill="#1e1e1e"/>
<path d="M117.5,407.3 Q123.0,402.3 128.5,407.3 L127.5,408.8 Q123.0,404.8 118.5,408.8 Z" fill="#fff" stroke="#1e1e1e" stroke-width="0"/>
<rect x="162.0" y="398.5" width="23.6" height="5.6" rx="0" fill="#1e1e1e"/>
<line x1="169.8" y1="398.5" x2="169.8" y2="404.1" stroke="#888" stroke-width="0.8"/>
<line x1="177.7" y1="398.5" x2="177.7" y2="404.1" stroke="#888" stroke-width="0.8"/>
<rect x="104.9" y="407.1" width="3.5" height="24.3" rx="0" fill="#1a1a1a"/>
<rect x="104.9" y="407.1" width="5.6" height="1.6" rx="0" fill="#1a1a1a"/>
<rect x="191.2" y="405.8" width="3.7" height="25.6" rx="0" fill="#1a1a1a"/>
<rect x="188.7" y="405.8" width="6.2" height="1.6" rx="0" fill="#1a1a1a"/>
<circle cx="122.3" cy="416.2" r="3.70" fill="#1e1e1e" stroke="none" stroke-width="1.0"/>
<circle cx="115.4" cy="429.0" r="3.70" fill="#1e1e1e" stroke="none" stroke-width="1.0"/>
<circle cx="136.5" cy="407.1" r="2.30" fill="#1e1e1e" stroke="none" stroke-width="1.0"/>
<circle cx="142.8" cy="410.1" r="2.50" fill="#1e1e1e" stroke="none" stroke-width="1.0"/>
<circle cx="137.1" cy="415.6" r="2.70" fill="#1e1e1e" stroke="none" stroke-width="1.0"/>
<circle cx="156.4" cy="412.5" r="2.70" fill="#1e1e1e" stroke="none" stroke-width="1.0"/>
<circle cx="156.4" cy="429.6" r="2.50" fill="#1e1e1e" stroke="none" stroke-width="1.0"/>
<circle cx="168.8" cy="412.5" r="2.00" fill="#1e1e1e" stroke="none" stroke-width="1.0"/>
<circle cx="178.7" cy="412.5" r="2.00" fill="#1e1e1e" stroke="none" stroke-width="1.0"/>
<circle cx="168.8" cy="419.2" r="2.00" fill="#1e1e1e" stroke="none" stroke-width="1.0"/>
<circle cx="178.7" cy="418.4" r="2.00" fill="#1e1e1e" stroke="none" stroke-width="1.0"/>
<circle cx="173.8" cy="424.5" r="2.00" fill="#1e1e1e" stroke="none" stroke-width="1.0"/>
<circle cx="133.1" cy="424.1" r="1.30" fill="#1e1e1e" stroke="none" stroke-width="1.0"/>
<circle cx="143.1" cy="428.1" r="1.30" fill="#1e1e1e" stroke="none" stroke-width="1.0"/>
<circle cx="127.8" cy="433.9" r="1.00" fill="#1e1e1e" stroke="none" stroke-width="1.0"/>
<circle cx="132.8" cy="434.1" r="1.00" fill="#1e1e1e" stroke="none" stroke-width="1.0"/>
<rect x="124.4" y="406.0" width="89.9" height="46.4" rx="2.2" fill="#fff" stroke="#1e1e1e" stroke-width="1.1"/>
<rect x="126.6" y="408.0" width="85.5" height="42.2" rx="1" fill="#fff" stroke="#1e1e1e" stroke-width="1.0"/>
<rect x="134.3" y="409.1" width="16.9" height="12.4" rx="0" fill="#1e1e1e"/>
<path d="M137.2,418.0 Q142.8,413.0 148.2,418.0 L147.2,419.5 Q142.8,415.5 138.2,419.5 Z" fill="#fff" stroke="#1e1e1e" stroke-width="0"/>
<rect x="181.5" y="409.0" width="23.5" height="5.7" rx="0" fill="#1e1e1e"/>
<line x1="189.3" y1="409.0" x2="189.3" y2="414.7" stroke="#888" stroke-width="0.8"/>
<line x1="197.2" y1="409.0" x2="197.2" y2="414.7" stroke="#888" stroke-width="0.8"/>
<rect x="124.7" y="417.8" width="3.5" height="24.7" rx="0" fill="#1a1a1a"/>
<rect x="124.7" y="417.8" width="5.6" height="1.6" rx="0" fill="#1a1a1a"/>
<rect x="210.6" y="416.5" width="3.7" height="26.0" rx="0" fill="#1a1a1a"/>
<rect x="208.1" y="416.5" width="6.2" height="1.6" rx="0" fill="#1a1a1a"/>
<circle cx="142.0" cy="427.0" r="3.70" fill="#1e1e1e" stroke="none" stroke-width="1.0"/>
<circle cx="135.2" cy="440.0" r="3.70" fill="#1e1e1e" stroke="none" stroke-width="1.0"/>
<circle cx="156.2" cy="417.8" r="2.30" fill="#1e1e1e" stroke="none" stroke-width="1.0"/>
<circle cx="162.4" cy="420.8" r="2.50" fill="#1e1e1e" stroke="none" stroke-width="1.0"/>
<circle cx="156.8" cy="426.4" r="2.70" fill="#1e1e1e" stroke="none" stroke-width="1.0"/>
<circle cx="176.0" cy="423.3" r="2.70" fill="#1e1e1e" stroke="none" stroke-width="1.0"/>
<circle cx="176.0" cy="440.6" r="2.50" fill="#1e1e1e" stroke="none" stroke-width="1.0"/>
<circle cx="188.3" cy="423.3" r="2.00" fill="#1e1e1e" stroke="none" stroke-width="1.0"/>
<circle cx="198.2" cy="423.3" r="2.00" fill="#1e1e1e" stroke="none" stroke-width="1.0"/>
<circle cx="188.3" cy="430.1" r="2.00" fill="#1e1e1e" stroke="none" stroke-width="1.0"/>
<circle cx="198.2" cy="429.3" r="2.00" fill="#1e1e1e" stroke="none" stroke-width="1.0"/>
<circle cx="193.3" cy="435.4" r="2.00" fill="#1e1e1e" stroke="none" stroke-width="1.0"/>
<circle cx="152.8" cy="435.0" r="1.30" fill="#1e1e1e" stroke="none" stroke-width="1.0"/>
<circle cx="162.7" cy="439.1" r="1.30" fill="#1e1e1e" stroke="none" stroke-width="1.0"/>
<circle cx="147.5" cy="445.0" r="1.00" fill="#1e1e1e" stroke="none" stroke-width="1.0"/>
<circle cx="152.5" cy="445.2" r="1.00" fill="#1e1e1e" stroke="none" stroke-width="1.0"/>
<rect x="218.2" y="382.8" width="89.7" height="45.4" rx="2.2" fill="#fff" stroke="#1e1e1e" stroke-width="1.1"/>
<rect x="220.4" y="384.8" width="85.3" height="41.2" rx="1" fill="#fff" stroke="#1e1e1e" stroke-width="1.0"/>
<rect x="228.1" y="385.8" width="16.9" height="12.1" rx="0" fill="#1e1e1e"/>
<path d="M231.0,394.5 Q236.5,389.5 242.0,394.5 L241.0,396.0 Q236.5,392.0 232.0,396.0 Z" fill="#fff" stroke="#1e1e1e" stroke-width="0"/>
<rect x="275.2" y="385.7" width="23.4" height="5.6" rx="0" fill="#1e1e1e"/>
<line x1="283.0" y1="385.7" x2="283.0" y2="391.3" stroke="#888" stroke-width="0.8"/>
<line x1="290.8" y1="385.7" x2="290.8" y2="391.3" stroke="#888" stroke-width="0.8"/>
<rect x="218.5" y="394.3" width="3.5" height="24.2" rx="0" fill="#1a1a1a"/>
<rect x="218.5" y="394.3" width="5.6" height="1.6" rx="0" fill="#1a1a1a"/>
<rect x="304.2" y="393.1" width="3.7" height="25.4" rx="0" fill="#1a1a1a"/>
<rect x="301.7" y="393.1" width="6.2" height="1.6" rx="0" fill="#1a1a1a"/>
<circle cx="235.8" cy="403.3" r="3.70" fill="#1e1e1e" stroke="none" stroke-width="1.0"/>
<circle cx="229.0" cy="416.1" r="3.70" fill="#1e1e1e" stroke="none" stroke-width="1.0"/>
<circle cx="249.9" cy="394.3" r="2.30" fill="#1e1e1e" stroke="none" stroke-width="1.0"/>
<circle cx="256.1" cy="397.3" r="2.50" fill="#1e1e1e" stroke="none" stroke-width="1.0"/>
<circle cx="250.5" cy="402.8" r="2.70" fill="#1e1e1e" stroke="none" stroke-width="1.0"/>
<circle cx="269.7" cy="399.7" r="2.70" fill="#1e1e1e" stroke="none" stroke-width="1.0"/>
<circle cx="269.7" cy="416.7" r="2.50" fill="#1e1e1e" stroke="none" stroke-width="1.0"/>
<circle cx="282.0" cy="399.7" r="2.00" fill="#1e1e1e" stroke="none" stroke-width="1.0"/>
<circle cx="291.8" cy="399.7" r="2.00" fill="#1e1e1e" stroke="none" stroke-width="1.0"/>
<circle cx="282.0" cy="406.4" r="2.00" fill="#1e1e1e" stroke="none" stroke-width="1.0"/>
<circle cx="291.8" cy="405.6" r="2.00" fill="#1e1e1e" stroke="none" stroke-width="1.0"/>
<circle cx="286.9" cy="411.6" r="2.00" fill="#1e1e1e" stroke="none" stroke-width="1.0"/>
<circle cx="246.5" cy="411.2" r="1.30" fill="#1e1e1e" stroke="none" stroke-width="1.0"/>
<circle cx="256.4" cy="415.2" r="1.30" fill="#1e1e1e" stroke="none" stroke-width="1.0"/>
<circle cx="241.2" cy="421.0" r="1.00" fill="#1e1e1e" stroke="none" stroke-width="1.0"/>
<circle cx="246.2" cy="421.2" r="1.00" fill="#1e1e1e" stroke="none" stroke-width="1.0"/>
<rect x="237.9" y="393.4" width="89.3" height="46.3" rx="2.2" fill="#fff" stroke="#1e1e1e" stroke-width="1.1"/>
<rect x="240.1" y="395.4" width="84.9" height="42.1" rx="1" fill="#fff" stroke="#1e1e1e" stroke-width="1.0"/>
<rect x="247.7" y="396.5" width="16.8" height="12.4" rx="0" fill="#1e1e1e"/>
<path d="M250.6,405.4 Q256.1,400.4 261.6,405.4 L260.6,406.9 Q256.1,402.9 251.6,406.9 Z" fill="#fff" stroke="#1e1e1e" stroke-width="0"/>
<rect x="294.6" y="396.4" width="23.3" height="5.7" rx="0" fill="#1e1e1e"/>
<line x1="302.4" y1="396.4" x2="302.4" y2="402.1" stroke="#888" stroke-width="0.8"/>
<line x1="310.2" y1="396.4" x2="310.2" y2="402.1" stroke="#888" stroke-width="0.8"/>
<rect x="238.2" y="405.2" width="3.5" height="24.6" rx="0" fill="#1a1a1a"/>
<rect x="238.2" y="405.2" width="5.6" height="1.6" rx="0" fill="#1a1a1a"/>
<rect x="323.5" y="403.9" width="3.7" height="25.9" rx="0" fill="#1a1a1a"/>
<rect x="321.0" y="403.9" width="6.2" height="1.6" rx="0" fill="#1a1a1a"/>
<circle cx="255.4" cy="414.4" r="3.70" fill="#1e1e1e" stroke="none" stroke-width="1.0"/>
<circle cx="248.6" cy="427.3" r="3.70" fill="#1e1e1e" stroke="none" stroke-width="1.0"/>
<circle cx="269.5" cy="405.2" r="2.30" fill="#1e1e1e" stroke="none" stroke-width="1.0"/>
<circle cx="275.6" cy="408.2" r="2.50" fill="#1e1e1e" stroke="none" stroke-width="1.0"/>
<circle cx="270.1" cy="413.8" r="2.70" fill="#1e1e1e" stroke="none" stroke-width="1.0"/>
<circle cx="289.2" cy="410.7" r="2.70" fill="#1e1e1e" stroke="none" stroke-width="1.0"/>
<circle cx="289.2" cy="427.9" r="2.50" fill="#1e1e1e" stroke="none" stroke-width="1.0"/>
<circle cx="301.4" cy="410.7" r="2.00" fill="#1e1e1e" stroke="none" stroke-width="1.0"/>
<circle cx="311.2" cy="410.7" r="2.00" fill="#1e1e1e" stroke="none" stroke-width="1.0"/>
<circle cx="301.4" cy="417.4" r="2.00" fill="#1e1e1e" stroke="none" stroke-width="1.0"/>
<circle cx="311.2" cy="416.6" r="2.00" fill="#1e1e1e" stroke="none" stroke-width="1.0"/>
<circle cx="306.3" cy="422.7" r="2.00" fill="#1e1e1e" stroke="none" stroke-width="1.0"/>
<circle cx="266.1" cy="422.3" r="1.30" fill="#1e1e1e" stroke="none" stroke-width="1.0"/>
<circle cx="275.9" cy="426.4" r="1.30" fill="#1e1e1e" stroke="none" stroke-width="1.0"/>
<circle cx="260.8" cy="432.3" r="1.00" fill="#1e1e1e" stroke="none" stroke-width="1.0"/>
<circle cx="265.8" cy="432.5" r="1.00" fill="#1e1e1e" stroke="none" stroke-width="1.0"/>
<rect x="257.0" y="404.4" width="89.9" height="47.1" rx="2.2" fill="#fff" stroke="#1e1e1e" stroke-width="1.1"/>
<rect x="259.2" y="406.4" width="85.5" height="42.9" rx="1" fill="#fff" stroke="#1e1e1e" stroke-width="1.0"/>
<rect x="266.9" y="407.5" width="16.9" height="12.6" rx="0" fill="#1e1e1e"/>
<path d="M269.9,416.6 Q275.4,411.6 280.9,416.6 L279.9,418.1 Q275.4,414.1 270.9,418.1 Z" fill="#fff" stroke="#1e1e1e" stroke-width="0"/>
<rect x="314.1" y="407.4" width="23.5" height="5.8" rx="0" fill="#1e1e1e"/>
<line x1="321.9" y1="407.4" x2="321.9" y2="413.2" stroke="#888" stroke-width="0.8"/>
<line x1="329.8" y1="407.4" x2="329.8" y2="413.2" stroke="#888" stroke-width="0.8"/>
<rect x="257.3" y="416.4" width="3.5" height="25.1" rx="0" fill="#1a1a1a"/>
<rect x="257.3" y="416.4" width="5.6" height="1.6" rx="0" fill="#1a1a1a"/>
<rect x="343.2" y="415.1" width="3.7" height="26.4" rx="0" fill="#1a1a1a"/>
<rect x="340.7" y="415.1" width="6.2" height="1.6" rx="0" fill="#1a1a1a"/>
<circle cx="274.6" cy="425.7" r="3.70" fill="#1e1e1e" stroke="none" stroke-width="1.0"/>
<circle cx="267.8" cy="438.9" r="3.70" fill="#1e1e1e" stroke="none" stroke-width="1.0"/>
<circle cx="288.8" cy="416.4" r="2.30" fill="#1e1e1e" stroke="none" stroke-width="1.0"/>
<circle cx="295.0" cy="419.4" r="2.50" fill="#1e1e1e" stroke="none" stroke-width="1.0"/>
<circle cx="289.4" cy="425.1" r="2.70" fill="#1e1e1e" stroke="none" stroke-width="1.0"/>
<circle cx="308.6" cy="422.0" r="2.70" fill="#1e1e1e" stroke="none" stroke-width="1.0"/>
<circle cx="308.6" cy="439.5" r="2.50" fill="#1e1e1e" stroke="none" stroke-width="1.0"/>
<circle cx="320.9" cy="422.0" r="2.00" fill="#1e1e1e" stroke="none" stroke-width="1.0"/>
<circle cx="330.8" cy="422.0" r="2.00" fill="#1e1e1e" stroke="none" stroke-width="1.0"/>
<circle cx="320.9" cy="428.9" r="2.00" fill="#1e1e1e" stroke="none" stroke-width="1.0"/>
<circle cx="330.8" cy="428.1" r="2.00" fill="#1e1e1e" stroke="none" stroke-width="1.0"/>
<circle cx="325.9" cy="434.2" r="2.00" fill="#1e1e1e" stroke="none" stroke-width="1.0"/>
<circle cx="285.4" cy="433.8" r="1.30" fill="#1e1e1e" stroke="none" stroke-width="1.0"/>
<circle cx="295.3" cy="438.0" r="1.30" fill="#1e1e1e" stroke="none" stroke-width="1.0"/>
<circle cx="280.1" cy="444.0" r="1.00" fill="#1e1e1e" stroke="none" stroke-width="1.0"/>
<circle cx="285.1" cy="444.2" r="1.00" fill="#1e1e1e" stroke="none" stroke-width="1.0"/>
<polygon points="353.2,409.2 360.0,391.7 444.7,391.7 452.2,409.2" fill="#fff" stroke="#1e1e1e" stroke-width="1.1" />
<ellipse cx="398.9" cy="405.6" rx="3.9" ry="1.7" fill="#ddd" stroke="#333" stroke-width="0.9"/>
<ellipse cx="406.5" cy="405.6" rx="3.9" ry="1.7" fill="#ddd" stroke="#333" stroke-width="0.9"/>
<ellipse cx="368.2" cy="451.8" rx="9" ry="2.8" fill="#1e1e1e"/>
<ellipse cx="437.3" cy="451.6" rx="8.5" ry="2.8" fill="#1e1e1e"/>
<path d="M353.2,409.2 L452.2,409.2 L452.2,447.5 Q452.2,449.7 450,449.7 L355.4,449.7 Q353.2,449.7 353.2,447.5 Z" fill="#fff" stroke="#1e1e1e" stroke-width="1.2"/>
<line x1="354.0" y1="411.6" x2="451.5" y2="411.6" stroke="#1e1e1e" stroke-width="0.8"/>
<line x1="354.0" y1="446.5" x2="451.5" y2="446.5" stroke="#1e1e1e" stroke-width="0.8"/>
<circle cx="358.0" cy="414.0" r="0.50" fill="#444" stroke="none" stroke-width="1.0"/>
<circle cx="361.0" cy="444.2" r="0.50" fill="#444" stroke="none" stroke-width="1.0"/>
<circle cx="365.0" cy="414.0" r="0.50" fill="#444" stroke="none" stroke-width="1.0"/>
<circle cx="368.0" cy="444.2" r="0.50" fill="#444" stroke="none" stroke-width="1.0"/>
<circle cx="372.0" cy="414.0" r="0.50" fill="#444" stroke="none" stroke-width="1.0"/>
<circle cx="375.0" cy="444.2" r="0.50" fill="#444" stroke="none" stroke-width="1.0"/>
<circle cx="379.0" cy="414.0" r="0.50" fill="#444" stroke="none" stroke-width="1.0"/>
<circle cx="382.0" cy="444.2" r="0.50" fill="#444" stroke="none" stroke-width="1.0"/>
<circle cx="386.0" cy="414.0" r="0.50" fill="#444" stroke="none" stroke-width="1.0"/>
<circle cx="389.0" cy="444.2" r="0.50" fill="#444" stroke="none" stroke-width="1.0"/>
<circle cx="393.0" cy="414.0" r="0.50" fill="#444" stroke="none" stroke-width="1.0"/>
<circle cx="396.0" cy="444.2" r="0.50" fill="#444" stroke="none" stroke-width="1.0"/>
<circle cx="400.0" cy="414.0" r="0.50" fill="#444" stroke="none" stroke-width="1.0"/>
<circle cx="403.0" cy="444.2" r="0.50" fill="#444" stroke="none" stroke-width="1.0"/>
<circle cx="407.0" cy="414.0" r="0.50" fill="#444" stroke="none" stroke-width="1.0"/>
<circle cx="410.0" cy="444.2" r="0.50" fill="#444" stroke="none" stroke-width="1.0"/>
<circle cx="414.0" cy="414.0" r="0.50" fill="#444" stroke="none" stroke-width="1.0"/>
<circle cx="417.0" cy="444.2" r="0.50" fill="#444" stroke="none" stroke-width="1.0"/>
<circle cx="421.0" cy="414.0" r="0.50" fill="#444" stroke="none" stroke-width="1.0"/>
<circle cx="424.0" cy="444.2" r="0.50" fill="#444" stroke="none" stroke-width="1.0"/>
<circle cx="428.0" cy="414.0" r="0.50" fill="#444" stroke="none" stroke-width="1.0"/>
<circle cx="431.0" cy="444.2" r="0.50" fill="#444" stroke="none" stroke-width="1.0"/>
<circle cx="435.0" cy="414.0" r="0.50" fill="#444" stroke="none" stroke-width="1.0"/>
<circle cx="438.0" cy="444.2" r="0.50" fill="#444" stroke="none" stroke-width="1.0"/>
<circle cx="442.0" cy="414.0" r="0.50" fill="#444" stroke="none" stroke-width="1.0"/>
<circle cx="445.0" cy="444.2" r="0.50" fill="#444" stroke="none" stroke-width="1.0"/>
<circle cx="449.0" cy="414.0" r="0.50" fill="#444" stroke="none" stroke-width="1.0"/>
<circle cx="452.0" cy="444.2" r="0.50" fill="#444" stroke="none" stroke-width="1.0"/>
<rect x="355.2" y="418.2" width="3.0" height="24.0" rx="1" fill="#1a1a1a"/>
<rect x="448.2" y="418.2" width="2.8" height="24.0" rx="1" fill="#1a1a1a"/>
<circle cx="356.7" cy="416.0" r="1.30" fill="none" stroke="#333" stroke-width="0.7"/>
<circle cx="356.7" cy="444.0" r="1.30" fill="none" stroke="#333" stroke-width="0.7"/>
<circle cx="449.6" cy="416.0" r="1.30" fill="none" stroke="#333" stroke-width="0.7"/>
<circle cx="449.6" cy="444.0" r="1.30" fill="none" stroke="#333" stroke-width="0.7"/>
<rect x="360.7" y="418.2" width="13.5" height="24.0" rx="0" fill="#fff" stroke="#1e1e1e" stroke-width="1.0"/>
<rect x="363.0" y="422.0" width="8.7" height="4.5" rx="0" fill="#1e1e1e"/>
<circle cx="372.3" cy="430.5" r="1.20" fill="none" stroke="#333" stroke-width="0.7"/>
<rect x="431.2" y="418.2" width="13.5" height="24.0" rx="0" fill="#fff" stroke="#1e1e1e" stroke-width="1.0"/>
<circle cx="433.0" cy="430.5" r="1.20" fill="none" stroke="#333" stroke-width="0.7"/>
<circle cx="400.2" cy="421.2" r="7.00" fill="#1e1e1e" stroke="none" stroke-width="1.0"/>
<circle cx="400.2" cy="421.2" r="5.00" fill="#fff" stroke="none" stroke-width="1.0"/>
<path d="M397.2,422.2 L400.2,425.5" fill="none" stroke="#1e1e1e" stroke-width="1.2"/>
<circle cx="421.5" cy="421.2" r="7.00" fill="#1e1e1e" stroke="none" stroke-width="1.0"/>
<circle cx="421.5" cy="421.2" r="5.00" fill="#fff" stroke="none" stroke-width="1.0"/>
<path d="M418.5,422.2 L421.5,425.5" fill="none" stroke="#1e1e1e" stroke-width="1.2"/>
<circle cx="410.2" cy="428.0" r="1.90" fill="none" stroke="#333" stroke-width="1.0"/>
<ellipse cx="383.2" cy="419.3" rx="2.8" ry="1.8" fill="#fff" stroke="#333" stroke-width="0.9"/>
<rect x="377.2" y="432.5" width="51.0" height="12.0" rx="1.5" fill="#fff" stroke="#1e1e1e" stroke-width="1.0"/>
<circle cx="383.7" cy="437.9" r="3.70" fill="#1a1a1a" stroke="none" stroke-width="1.0"/>
<circle cx="390.7" cy="438.5" r="1.60" fill="#1e1e1e" stroke="none" stroke-width="1.0"/>
<circle cx="396.7" cy="438.5" r="2.00" fill="#1e1e1e" stroke="none" stroke-width="1.0"/>
<circle cx="403.5" cy="438.5" r="2.00" fill="#1e1e1e" stroke="none" stroke-width="1.0"/>
<circle cx="409.8" cy="438.5" r="2.70" fill="#1e1e1e" stroke="none" stroke-width="1.0"/>
<circle cx="418.2" cy="438.5" r="2.00" fill="#1e1e1e" stroke="none" stroke-width="1.0"/>
<circle cx="424.2" cy="438.5" r="2.00" fill="#1e1e1e" stroke="none" stroke-width="1.0"/>
<polygon points="770.2,266.5 773.0,264.5 813.1,264.5 813.1,338.7 775.1,338.7 770.2,335.5" fill="#fff" stroke="#1e1e1e" stroke-width="1.1" />
<line x1="775.1" y1="267.7" x2="775.1" y2="338.7" stroke="#1e1e1e" stroke-width="1.2"/>
<line x1="775.1" y1="267.7" x2="813.1" y2="267.7" stroke="#1e1e1e" stroke-width="1.0"/>
<line x1="772.0" y1="266.5" x2="772.0" y2="336.0" stroke="#1e1e1e" stroke-width="0.7"/>
<rect x="775.1" y="336.8" width="38.2" height="2.4" rx="0" fill="#1e1e1e"/>
<rect x="811.5" y="265.0" width="2.0" height="74.0" rx="0" fill="#333"/>
<circle cx="781.7" cy="273.0" r="2.00" fill="#333" stroke="none" stroke-width="1.0"/>
<circle cx="787.9" cy="273.0" r="2.00" fill="#333" stroke="none" stroke-width="1.0"/>
<circle cx="794.5" cy="273.0" r="2.00" fill="#333" stroke="none" stroke-width="1.0"/>
<circle cx="800.8" cy="273.0" r="2.00" fill="#333" stroke="none" stroke-width="1.0"/>
<circle cx="807.0" cy="273.0" r="2.00" fill="#333" stroke="none" stroke-width="1.0"/>
<circle cx="781.7" cy="279.8" r="2.00" fill="#333" stroke="none" stroke-width="1.0"/>
<circle cx="787.9" cy="279.8" r="2.00" fill="#333" stroke="none" stroke-width="1.0"/>
<circle cx="794.5" cy="279.8" r="2.00" fill="#333" stroke="none" stroke-width="1.0"/>
<circle cx="800.8" cy="279.8" r="2.00" fill="#333" stroke="none" stroke-width="1.0"/>
<circle cx="807.0" cy="279.8" r="2.00" fill="#333" stroke="none" stroke-width="1.0"/>
<circle cx="781.7" cy="286.4" r="2.00" fill="#333" stroke="none" stroke-width="1.0"/>
<circle cx="787.9" cy="286.4" r="2.00" fill="#333" stroke="none" stroke-width="1.0"/>
<circle cx="794.5" cy="286.4" r="2.00" fill="#333" stroke="none" stroke-width="1.0"/>
<circle cx="800.8" cy="286.4" r="2.00" fill="#333" stroke="none" stroke-width="1.0"/>
<circle cx="807.0" cy="286.4" r="2.00" fill="#333" stroke="none" stroke-width="1.0"/>
<circle cx="781.7" cy="292.8" r="2.00" fill="#333" stroke="none" stroke-width="1.0"/>
<circle cx="787.9" cy="292.8" r="2.00" fill="#333" stroke="none" stroke-width="1.0"/>
<circle cx="794.5" cy="292.8" r="2.00" fill="#333" stroke="none" stroke-width="1.0"/>
<circle cx="800.8" cy="292.8" r="2.00" fill="#333" stroke="none" stroke-width="1.0"/>
<circle cx="807.0" cy="292.8" r="2.00" fill="#333" stroke="none" stroke-width="1.0"/>
<circle cx="781.7" cy="299.7" r="2.00" fill="#333" stroke="none" stroke-width="1.0"/>
<circle cx="787.9" cy="299.7" r="2.00" fill="#333" stroke="none" stroke-width="1.0"/>
<circle cx="794.5" cy="299.7" r="2.00" fill="#333" stroke="none" stroke-width="1.0"/>
<circle cx="800.8" cy="299.7" r="2.00" fill="#333" stroke="none" stroke-width="1.0"/>
<circle cx="807.0" cy="299.7" r="2.00" fill="#333" stroke="none" stroke-width="1.0"/>
<circle cx="781.7" cy="306.4" r="2.00" fill="#333" stroke="none" stroke-width="1.0"/>
<circle cx="787.9" cy="306.4" r="2.00" fill="#333" stroke="none" stroke-width="1.0"/>
<circle cx="794.5" cy="306.4" r="2.00" fill="#333" stroke="none" stroke-width="1.0"/>
<circle cx="800.8" cy="306.4" r="2.00" fill="#333" stroke="none" stroke-width="1.0"/>
<circle cx="807.0" cy="306.4" r="2.00" fill="#333" stroke="none" stroke-width="1.0"/>
<circle cx="781.7" cy="312.6" r="2.00" fill="#333" stroke="none" stroke-width="1.0"/>
<circle cx="787.9" cy="312.6" r="2.00" fill="#333" stroke="none" stroke-width="1.0"/>
<circle cx="794.5" cy="312.6" r="2.00" fill="#333" stroke="none" stroke-width="1.0"/>
<circle cx="800.8" cy="312.6" r="2.00" fill="#333" stroke="none" stroke-width="1.0"/>
<circle cx="807.0" cy="312.6" r="2.00" fill="#333" stroke="none" stroke-width="1.0"/>
<circle cx="781.7" cy="319.2" r="2.00" fill="#333" stroke="none" stroke-width="1.0"/>
<circle cx="787.9" cy="319.2" r="2.00" fill="#333" stroke="none" stroke-width="1.0"/>
<circle cx="794.5" cy="319.2" r="2.00" fill="#333" stroke="none" stroke-width="1.0"/>
<circle cx="800.8" cy="319.2" r="2.00" fill="#333" stroke="none" stroke-width="1.0"/>
<circle cx="807.0" cy="319.2" r="2.00" fill="#333" stroke="none" stroke-width="1.0"/>
<circle cx="781.7" cy="325.9" r="2.00" fill="#333" stroke="none" stroke-width="1.0"/>
<circle cx="787.9" cy="325.9" r="2.00" fill="#333" stroke="none" stroke-width="1.0"/>
<circle cx="794.5" cy="325.9" r="2.00" fill="#333" stroke="none" stroke-width="1.0"/>
<circle cx="800.8" cy="325.9" r="2.00" fill="#333" stroke="none" stroke-width="1.0"/>
<circle cx="807.0" cy="325.9" r="2.00" fill="#333" stroke="none" stroke-width="1.0"/>
<circle cx="781.7" cy="332.5" r="2.00" fill="#333" stroke="none" stroke-width="1.0"/>
<circle cx="787.9" cy="332.5" r="2.00" fill="#333" stroke="none" stroke-width="1.0"/>
<circle cx="794.5" cy="332.5" r="2.00" fill="#333" stroke="none" stroke-width="1.0"/>
<circle cx="800.8" cy="332.5" r="2.00" fill="#333" stroke="none" stroke-width="1.0"/>
<circle cx="807.0" cy="332.5" r="2.00" fill="#333" stroke="none" stroke-width="1.0"/>
<polygon points="767.3,447.6 771.9,430.7 837.8,429.9 842.2,447.6" fill="#fff" stroke="#1e1e1e" stroke-width="1.1" />
<rect x="796.5" y="428.0" width="26.5" height="3.0" rx="0" fill="#555"/>
<rect x="797.2" y="441.6" width="16.0" height="3.4" rx="1.2" fill="#1e1e1e"/>
<rect x="767.3" y="447.6" width="74.9" height="46.6" rx="0" fill="#fff" stroke="#1e1e1e" stroke-width="1.2"/>
<line x1="771.0" y1="448.0" x2="771.0" y2="494.0" stroke="#1e1e1e" stroke-width="0.8"/>
<line x1="838.5" y1="448.0" x2="838.5" y2="494.0" stroke="#1e1e1e" stroke-width="0.8"/>
<rect x="768.0" y="449.0" width="2.5" height="6.0" rx="0" fill="#333"/>
<rect x="839.0" y="449.0" width="2.5" height="6.0" rx="0" fill="#333"/>
<rect x="777.0" y="457.3" width="17.6" height="22.3" rx="0" fill="#fff" stroke="#1e1e1e" stroke-width="1.0"/>
<rect x="820.1" y="455.0" width="15.1" height="29.9" rx="0" fill="#fff" stroke="#1e1e1e" stroke-width="1.0"/>
<circle cx="805.2" cy="457.9" r="5.10" fill="#1e1e1e" stroke="none" stroke-width="1.0"/>
<circle cx="805.2" cy="457.6" r="3.20" fill="#fff" stroke="none" stroke-width="1.0"/>
<line x1="805.2" y1="458.5" x2="803.5" y2="455.5" stroke="#1e1e1e" stroke-width="0.8"/>
<rect x="799.9" y="464.5" width="11.3" height="7.5" rx="0" fill="#1e1e1e"/>
<circle cx="798.8" cy="476.9" r="1.80" fill="#1e1e1e" stroke="none" stroke-width="1.0"/>
<circle cx="811.6" cy="476.9" r="1.80" fill="#1e1e1e" stroke="none" stroke-width="1.0"/>
<circle cx="816.5" cy="469.5" r="1.00" fill="#1e1e1e" stroke="none" stroke-width="1.0"/>
<circle cx="805.2" cy="482.0" r="1.30" fill="#1e1e1e" stroke="none" stroke-width="1.0"/>
<circle cx="805.2" cy="486.9" r="1.30" fill="#1e1e1e" stroke="none" stroke-width="1.0"/>
<circle cx="809.9" cy="482.0" r="1.30" fill="#1e1e1e" stroke="none" stroke-width="1.0"/>
<circle cx="809.9" cy="486.9" r="1.30" fill="#1e1e1e" stroke="none" stroke-width="1.0"/>
<circle cx="814.5" cy="482.0" r="1.30" fill="#1e1e1e" stroke="none" stroke-width="1.0"/>
<circle cx="814.5" cy="486.9" r="1.30" fill="#1e1e1e" stroke="none" stroke-width="1.0"/>
<circle cx="787.5" cy="487.0" r="1.00" fill="none" stroke="#333" stroke-width="0.8"/>
<circle cx="792.5" cy="487.0" r="1.00" fill="none" stroke="#333" stroke-width="0.8"/>
<circle cx="797.0" cy="487.0" r="1.00" fill="none" stroke="#333" stroke-width="0.8"/>
<circle cx="801.0" cy="487.0" r="1.00" fill="none" stroke="#333" stroke-width="0.8"/>
<rect x="771.3" y="469.6" width="2.6" height="22.0" rx="0" fill="#1a1a1a"/>
<rect x="836.5" y="470.9" width="3.3" height="19.3" rx="0" fill="#1a1a1a"/>
<polygon points="547.3,529.5 550.3,526.4 593.1,527.3 594.4,530.0 594.4,580.5 586.0,583.1" fill="#fff" stroke="#1e1e1e" stroke-width="1.1" />
<path d="M547.3,531.5 Q547.3,529.5 549.3,529.5 L584,529.5 Q586,529.5 586,531.5 L586,583.1 L549.3,583.1 Q547.3,583.1 547.3,581 Z" fill="#fff" stroke="#1e1e1e" stroke-width="1.2"/>
<line x1="586.0" y1="529.5" x2="593.1" y2="527.3" stroke="#1e1e1e" stroke-width="1.0"/>
<line x1="553.0" y1="532.5" x2="578.0" y2="532.5" stroke="#555" stroke-width="1.0"/>
<line x1="553.0" y1="527.6" x2="583.0" y2="527.8" stroke="#555" stroke-width="0.8"/>
<circle cx="557.4" cy="541.6" r="5.90" fill="#1e1e1e" stroke="none" stroke-width="1.0"/>
<circle cx="570.7" cy="542.2" r="5.90" fill="#1e1e1e" stroke="none" stroke-width="1.0"/>
<circle cx="556.1" cy="558.4" r="2.80" fill="#1e1e1e" stroke="none" stroke-width="1.0"/>
<circle cx="569.1" cy="558.8" r="2.80" fill="#1e1e1e" stroke="none" stroke-width="1.0"/>
<circle cx="569.4" cy="571.0" r="3.10" fill="#1e1e1e" stroke="none" stroke-width="1.0"/>
<circle cx="559.0" cy="555.0" r="1.00" fill="#444" stroke="none" stroke-width="1.0"/>
<circle cx="568.0" cy="553.6" r="0.80" fill="#444" stroke="none" stroke-width="1.0"/>
<circle cx="573.2" cy="563.0" r="1.20" fill="#444" stroke="none" stroke-width="1.0"/>
<circle cx="558.0" cy="571.0" r="1.00" fill="#444" stroke="none" stroke-width="1.0"/>
<circle cx="573.2" cy="574.7" r="1.00" fill="#444" stroke="none" stroke-width="1.0"/>
<circle cx="549.0" cy="537.7" r="1.30" fill="#444" stroke="none" stroke-width="1.0"/>
<circle cx="582.0" cy="540.3" r="1.30" fill="#444" stroke="none" stroke-width="1.0"/>
<circle cx="549.4" cy="570.8" r="1.30" fill="#444" stroke="none" stroke-width="1.0"/>
<circle cx="581.4" cy="575.7" r="1.30" fill="#444" stroke="none" stroke-width="1.0"/>
<ellipse cx="380.5" cy="652.8" rx="4.5" ry="1.7" fill="#1e1e1e"/>
<ellipse cx="449.3" cy="652.3" rx="4.5" ry="1.7" fill="#1e1e1e"/>
<polygon points="365.5,609.0 367.5,607.3 458.5,607.3 458.5,651.8 371.0,651.8 365.5,650.0" fill="#fff" stroke="#1e1e1e" stroke-width="1.2" />
<line x1="371.0" y1="610.3" x2="371.0" y2="651.8" stroke="#1e1e1e" stroke-width="1.1"/>
<line x1="371.0" y1="610.3" x2="458.5" y2="610.3" stroke="#1e1e1e" stroke-width="1.1"/>
<rect x="374.3" y="613.5" width="81.7" height="35.0" rx="0" fill="none" stroke="#1e1e1e" stroke-width="1.0"/>
<line x1="378.5" y1="618.5" x2="401.8" y2="618.5" stroke="#1e1e1e" stroke-width="1.0"/>
<line x1="378.5" y1="622.0" x2="401.8" y2="622.0" stroke="#1e1e1e" stroke-width="1.0"/>
<line x1="378.5" y1="625.3" x2="401.8" y2="625.3" stroke="#1e1e1e" stroke-width="1.0"/>
<line x1="378.5" y1="629.0" x2="401.8" y2="629.0" stroke="#1e1e1e" stroke-width="1.0"/>
<line x1="378.5" y1="632.8" x2="401.8" y2="632.8" stroke="#1e1e1e" stroke-width="1.0"/>
<line x1="378.5" y1="636.5" x2="401.8" y2="636.5" stroke="#1e1e1e" stroke-width="1.0"/>
<rect x="409.3" y="613.5" width="32.5" height="26.8" rx="0" fill="#fff" stroke="#1e1e1e" stroke-width="1.0"/>
<circle cx="425.5" cy="643.0" r="2.30" fill="#1e1e1e" stroke="none" stroke-width="1.0"/>
<path d="M689.6,558 Q689.6,545 697,541.5 L704,540.5 L707,571.4 L707.3,660 L689.5,658.2 Z" fill="#fff" stroke="#1e1e1e" stroke-width="1.2"/>
<line x1="704.0" y1="571.4" x2="704.0" y2="643.2" stroke="#1e1e1e" stroke-width="0.8"/>
<path d="M707.3,571.4 L712.7,571.4 L712.7,663.7 L707.3,660" fill="#fff" stroke="#1e1e1e" stroke-width="1.1"/>
<path d="M695,541.7 Q698,540 704,539.8 L749,538.5 Q760,538.3 762.7,551.3 L764.3,568.6 L764.5,573 L707,574 L707,571.4 Q700,562 691.4,547.6 Z" fill="#fff" stroke="#1e1e1e" stroke-width="1.2"/>
<line x1="691.4" y1="547.6" x2="707.0" y2="571.4" stroke="#1e1e1e" stroke-width="1.0"/>
<line x1="694.0" y1="548.5" x2="706.0" y2="566.5" stroke="#1e1e1e" stroke-width="0.8"/>
<line x1="707.0" y1="571.4" x2="764.5" y2="570.5" stroke="#1e1e1e" stroke-width="1.0"/>
<polygon points="712.4,540.8 750.5,539.4 750.8,549.9 718.4,551.7" fill="#fff" stroke="#1e1e1e" stroke-width="1.1" />
<polygon points="712.6,540.8 714.8,540.7 719.6,551.6 718.4,551.7" fill="#555" stroke="#1e1e1e" stroke-width="0.5" />
<polygon points="743.5,539.6 747.5,539.5 751.0,549.9 749.0,550.0" fill="#333" stroke="#1e1e1e" stroke-width="0.5" />
<rect x="720.2" y="559.0" width="33.8" height="9.2" rx="0.8" fill="#fff" stroke="#1e1e1e" stroke-width="1.3"/>
<line x1="722.0" y1="566.6" x2="752.5" y2="566.3" stroke="#666" stroke-width="0.8"/>
<circle cx="714.7" cy="559.5" r="0.90" fill="#333" stroke="none" stroke-width="1.0"/>
<circle cx="756.8" cy="555.9" r="0.90" fill="#333" stroke="none" stroke-width="1.0"/>
<circle cx="757.7" cy="564.1" r="0.90" fill="#333" stroke="none" stroke-width="1.0"/>
<line x1="711.5" y1="558.0" x2="711.5" y2="566.0" stroke="#1e1e1e" stroke-width="0.8"/>
<polygon points="711.5,576.0 763.6,573.2 766.8,582.8 766.4,587.0 712.4,591.5" fill="#1a1a1a" stroke="#1e1e1e" stroke-width="1.0" />
<polygon points="718.4,577.4 721.5,577.1 726.1,584.2 723.0,584.5" fill="#eee" stroke="#1e1e1e" stroke-width="0" />
<polygon points="754.5,575.0 757.5,574.8 761.8,581.4 758.8,581.6" fill="#eee" stroke="#1e1e1e" stroke-width="0" />
<text x="727.5" y="581.6" font-family="Liberation Serif, serif" font-style="italic" font-weight="bold" font-size="6.5" fill="#bbb" textLength="23" lengthAdjust="spacingAndGlyphs">Teletype</text>
<line x1="712.7" y1="592.0" x2="760.5" y2="590.5" stroke="#1e1e1e" stroke-width="1.0"/>
<polygon points="751.0,590.8 760.5,590.5 760.5,627.0 748.5,617.5" fill="#1a1a1a" stroke="#1e1e1e" stroke-width="0.8" />
<line x1="760.5" y1="590.5" x2="760.5" y2="666.4" stroke="#1e1e1e" stroke-width="1.1"/>
<line x1="763.9" y1="587.0" x2="763.9" y2="666.4" stroke="#1e1e1e" stroke-width="1.2"/>
<line x1="712.7" y1="623.4" x2="745.5" y2="619.3" stroke="#1e1e1e" stroke-width="1.0"/>
<line x1="712.7" y1="625.2" x2="742.8" y2="621.4" stroke="#1e1e1e" stroke-width="0.9"/>
<line x1="739.3" y1="620.5" x2="739.3" y2="650.0" stroke="#1e1e1e" stroke-width="1.0"/>
<line x1="742.8" y1="619.5" x2="742.8" y2="648.0" stroke="#1e1e1e" stroke-width="1.0"/>
<line x1="745.5" y1="619.3" x2="760.5" y2="628.0" stroke="#1e1e1e" stroke-width="1.0"/>
<line x1="742.8" y1="622.0" x2="760.5" y2="631.0" stroke="#1e1e1e" stroke-width="0.8"/>
<circle cx="754.0" cy="646.0" r="0.70" fill="#333" stroke="none" stroke-width="1.0"/>
<polygon points="689.5,646.0 712.7,663.7 712.7,678.0 705.9,674.6 693.0,662.0 689.5,658.2" fill="#1a1a1a" stroke="#1e1e1e" stroke-width="0.6" />
<ellipse cx="709.3" cy="678" rx="4.2" ry="2.4" fill="#1a1a1a"/>
<ellipse cx="692.5" cy="660.3" rx="3.5" ry="2.2" fill="#1a1a1a"/>
<polygon points="739.3,642.0 763.9,658.2 763.9,666.0 758.0,666.5 741.0,655.0 739.3,650.0" fill="#1a1a1a" stroke="#1e1e1e" stroke-width="0.6" />
<ellipse cx="761.9" cy="668.4" rx="4.3" ry="2.3" fill="#1a1a1a"/>
<ellipse cx="740.7" cy="650.7" rx="3" ry="1.9" fill="#1a1a1a"/>
<polygon points="891.6,336.4 934.6,354.6 935.5,517.0 893.2,488.0 891.6,487.0" fill="#fff" stroke="#1e1e1e" stroke-width="1.2" />
<line x1="893.6" y1="337.5" x2="894.0" y2="487.0" stroke="#1e1e1e" stroke-width="0.8"/>
<line x1="893.2" y1="471.4" x2="935.5" y2="498.7" stroke="#1e1e1e" stroke-width="1.0"/>
<polygon points="891.6,336.4 931.8,327.5 975.5,341.5 934.6,354.6" fill="#fff" stroke="#1e1e1e" stroke-width="1.2" />
<line x1="893.5" y1="338.5" x2="934.6" y2="356.5" stroke="#1e1e1e" stroke-width="0.8"/>
<line x1="934.6" y1="356.5" x2="975.5" y2="343.5" stroke="#1e1e1e" stroke-width="0.8"/>
<ellipse cx="917.3" cy="335.4" rx="7.8" ry="3.5" fill="#1e1e1e" transform="rotate(-10 917.3 335.4)"/>
<ellipse cx="931.1" cy="334.0" rx="7.8" ry="3.5" fill="#1e1e1e" transform="rotate(-10 931.1 334.0)"/>
<ellipse cx="938" cy="343.2" rx="7.8" ry="3.5" fill="#1e1e1e" transform="rotate(-10 938 343.2)"/>
<ellipse cx="948.5" cy="340.6" rx="7.8" ry="3.5" fill="#1e1e1e" transform="rotate(-10 948.5 340.6)"/>
<polygon points="934.6,354.6 975.5,341.5 976.3,507.5 935.5,517.0" fill="#fff" stroke="#1e1e1e" stroke-width="1.2" />
<line x1="936.3" y1="355.0" x2="937.0" y2="516.5" stroke="#1e1e1e" stroke-width="0.8"/>
<line x1="935.2" y1="357.6" x2="974.8" y2="345.2" stroke="#1e1e1e" stroke-width="0.9"/>
<line x1="972.6" y1="345.5" x2="972.8" y2="505.0" stroke="#555" stroke-width="0.7"/>
<line x1="935.0" y1="385.8" x2="975.5" y2="373.9" stroke="#1e1e1e" stroke-width="1.2"/>
<line x1="935.0" y1="407.5" x2="975.5" y2="396.5" stroke="#1e1e1e" stroke-width="1.2"/>
<line x1="935.0" y1="454.4" x2="975.5" y2="445.4" stroke="#1e1e1e" stroke-width="1.2"/>
<line x1="935.0" y1="474.1" x2="975.5" y2="465.2" stroke="#1e1e1e" stroke-width="1.2"/>
<line x1="935.0" y1="494.6" x2="975.5" y2="485.7" stroke="#1e1e1e" stroke-width="1.2"/>
<circle cx="951.5" cy="356.7" r="3.20" fill="#fff" stroke="#1e1e1e" stroke-width="1.7"/>
<circle cx="951.8" cy="357.3" r="1.00" fill="#1e1e1e" stroke="none" stroke-width="1.0"/>
<line x1="951.5" y1="359.9" x2="951.5" y2="364.5" stroke="#1e1e1e" stroke-width="1.6"/>
<circle cx="951.5" cy="364.5" r="1.20" fill="#1e1e1e" stroke="none" stroke-width="1.0"/>
<circle cx="960.0" cy="354.8" r="3.20" fill="#fff" stroke="#1e1e1e" stroke-width="1.7"/>
<circle cx="960.3" cy="355.4" r="1.00" fill="#1e1e1e" stroke="none" stroke-width="1.0"/>
<line x1="960.0" y1="358.0" x2="960.0" y2="362.3" stroke="#1e1e1e" stroke-width="1.6"/>
<circle cx="960.0" cy="362.3" r="1.20" fill="#1e1e1e" stroke="none" stroke-width="1.0"/>
<path d="M939.5,364.3 Q942.6,366 942.4,370.5 L942.2,376 Q941.5,377.8 939.5,377.8" fill="none" stroke="#1e1e1e" stroke-width="2.3"/>
<path d="M971.8,355.5 Q973.8,357 973.6,360 L973.4,365 Q973,366.8 971.6,367" fill="none" stroke="#1e1e1e" stroke-width="2.3"/>
<circle cx="937.2" cy="360.0" r="1.10" fill="#333" stroke="none" stroke-width="1.0"/>
<circle cx="938.1" cy="378.6" r="1.10" fill="#333" stroke="none" stroke-width="1.0"/>
<polygon points="947.2,371.0 963.9,367.2 963.9,377.2 947.2,381.5" fill="none" stroke="#1e1e1e" stroke-width="1.0" />
<line x1="961.0" y1="367.8" x2="961.0" y2="377.9" stroke="#1e1e1e" stroke-width="0.9"/>
<circle cx="955.8" cy="392.2" r="3.80" fill="#1e1e1e" stroke="none" stroke-width="1.0"/>
<circle cx="955.3" cy="391.6" r="1.30" fill="#777" stroke="none" stroke-width="1.0"/>
<circle cx="948.1" cy="385.3" r="1.50" fill="#222" stroke="none" stroke-width="1.0"/>
<circle cx="955.3" cy="383.9" r="1.50" fill="#222" stroke="none" stroke-width="1.0"/>
<circle cx="964.8" cy="390.1" r="1.50" fill="#222" stroke="none" stroke-width="1.0"/>
<circle cx="965.3" cy="394.9" r="1.50" fill="#222" stroke="none" stroke-width="1.0"/>
<line x1="955.3" y1="383.2" x2="958.0" y2="382.6" stroke="#1e1e1e" stroke-width="0.7"/>
<path d="M940,389.6 Q942.4,390.5 942.3,393 L942.1,400 Q941.5,401.6 940,401.4" fill="none" stroke="#1e1e1e" stroke-width="2.3"/>
<path d="M965,384.5 L965,379 L970.8,378.6 L970.8,382.4 L965.5,383.4" fill="none" stroke="#1e1e1e" stroke-width="2.0"/>
<path d="M969,382 L972.6,382.5 L972.6,392" fill="none" stroke="#1e1e1e" stroke-width="2.6"/>
<circle cx="941.5" cy="410.2" r="1.50" fill="#222" stroke="none" stroke-width="1.0"/>
<circle cx="947.6" cy="408.6" r="1.50" fill="#222" stroke="none" stroke-width="1.0"/>
<circle cx="951.4" cy="407.4" r="1.50" fill="#222" stroke="none" stroke-width="1.0"/>
<circle cx="959.6" cy="405.3" r="1.50" fill="#222" stroke="none" stroke-width="1.0"/>
<circle cx="937.8" cy="420.0" r="1.20" fill="#333" stroke="none" stroke-width="1.0"/>
<circle cx="938.6" cy="443.8" r="1.20" fill="#333" stroke="none" stroke-width="1.0"/>
<polygon points="940.6,415.1 970.1,407.0 970.1,420.0 964.4,444.2 942.3,449.9" fill="#fff" stroke="#1e1e1e" stroke-width="1.1" />
<line x1="942.5" y1="417.5" x2="968.0" y2="410.3" stroke="#1e1e1e" stroke-width="0.8"/>
<line x1="943.1" y1="426.2" x2="965.2" y2="421.7" stroke="#1e1e1e" stroke-width="1.0"/>
<line x1="943.1" y1="428.2" x2="965.2" y2="423.7" stroke="#1e1e1e" stroke-width="1.0"/>
<line x1="943.1" y1="432.7" x2="965.2" y2="428.2" stroke="#1e1e1e" stroke-width="0.9"/>
<line x1="945.0" y1="426.2" x2="945.0" y2="428.2" stroke="#1e1e1e" stroke-width="0.6"/>
<line x1="948.0" y1="425.6" x2="948.0" y2="427.6" stroke="#1e1e1e" stroke-width="0.6"/>
<line x1="951.0" y1="425.0" x2="951.0" y2="427.0" stroke="#1e1e1e" stroke-width="0.6"/>
<line x1="954.0" y1="424.4" x2="954.0" y2="426.4" stroke="#1e1e1e" stroke-width="0.6"/>
<line x1="957.0" y1="423.8" x2="957.0" y2="425.8" stroke="#1e1e1e" stroke-width="0.6"/>
<line x1="960.0" y1="423.2" x2="960.0" y2="425.2" stroke="#1e1e1e" stroke-width="0.6"/>
<line x1="963.0" y1="422.6" x2="963.0" y2="424.6" stroke="#1e1e1e" stroke-width="0.6"/>
<circle cx="949.0" cy="421.7" r="1.50" fill="#222" stroke="none" stroke-width="1.0"/>
<circle cx="954.5" cy="420.5" r="1.50" fill="#222" stroke="none" stroke-width="1.0"/>
<circle cx="965.0" cy="417.2" r="1.90" fill="#222" stroke="none" stroke-width="1.0"/>
<rect x="940.5" y="426.0" width="2.3" height="11.8" rx="0" fill="#1a1a1a"/>
<circle cx="968.0" cy="426.6" r="3.30" fill="#fff" stroke="#1a1a1a" stroke-width="1.8"/>
<path d="M970.5,417.2 Q975.2,418 975,423 L974.6,428 Q973.5,429.5 971,429" fill="none" stroke="#1e1e1e" stroke-width="2.0"/>
<polygon points="950.5,437.7 955.8,436.8 955.8,440.4 950.5,441.2" fill="none" stroke="#1e1e1e" stroke-width="0.9" />
<line x1="943.0" y1="448.7" x2="963.5" y2="445.8" stroke="#1e1e1e" stroke-width="0.8"/>
<line x1="943.0" y1="447.2" x2="963.5" y2="444.3" stroke="#1e1e1e" stroke-width="0.7"/>
<line x1="969.3" y1="435.0" x2="969.3" y2="441.0" stroke="#1e1e1e" stroke-width="0.6"/>
<polygon points="946.4,455.2 954.6,453.6 954.6,459.0 946.4,460.6" fill="none" stroke="#1e1e1e" stroke-width="0.9" />
<rect x="949.2" y="455.5" width="2.4" height="3.3" rx="0" fill="#333"/>
<path d="M960.5,453.5 L968.5,451.8 M964.5,452.6 L964.8,462" fill="none" stroke="#1e1e1e" stroke-width="2.2"/>
<path d="M969.5,451.2 Q974.6,450.8 974.6,454 L974.6,461.5" fill="none" stroke="#1e1e1e" stroke-width="2.2"/>
<path d="M940,458.3 Q942.4,459 942.3,461.5 L942.1,469 Q941.5,470.6 940,470.4" fill="none" stroke="#1e1e1e" stroke-width="2.3"/>
<polygon points="948.4,474.2 958.0,472.4 958.0,484.3 948.4,486.0" fill="#fff" stroke="#1e1e1e" stroke-width="1.0" />
<polygon points="959.8,470.3 969.6,468.5 969.6,481.5 959.8,483.2" fill="#fff" stroke="#1e1e1e" stroke-width="1.0" />
<line x1="950.0" y1="474.5" x2="950.0" y2="485.5" stroke="#555" stroke-width="0.6"/>
<line x1="961.3" y1="470.5" x2="961.3" y2="482.8" stroke="#555" stroke-width="0.6"/>
<circle cx="950.5" cy="471.8" r="1.20" fill="#333" stroke="none" stroke-width="1.0"/>
<circle cx="955.5" cy="470.8" r="1.20" fill="#333" stroke="none" stroke-width="1.0"/>
<path d="M940,477.8 Q942.4,478.5 942.3,481 L942.1,489 Q941.5,490.6 940,490.4" fill="none" stroke="#1e1e1e" stroke-width="2.3"/>
<path d="M972.5,467.8 Q974.6,468.5 974.5,471 L974.4,479 Q974,480.5 972.5,480.6" fill="none" stroke="#1e1e1e" stroke-width="2.3"/>
<circle cx="951.0" cy="489.8" r="0.90" fill="#333" stroke="none" stroke-width="1.0"/>
<circle cx="954.0" cy="489.0" r="0.90" fill="#333" stroke="none" stroke-width="1.0"/>
<circle cx="957.0" cy="488.2" r="0.90" fill="#333" stroke="none" stroke-width="1.0"/>
<circle cx="960.0" cy="487.4" r="0.90" fill="#333" stroke="none" stroke-width="1.0"/>
<polygon points="941.6,501.4 972.3,493.9 972.3,505.5 941.6,511.0" fill="#1e1e1e" stroke="#1e1e1e" stroke-width="0.8" />
<ellipse cx="898.6" cy="491" rx="3.5" ry="1.6" fill="#1e1e1e" transform="rotate(30 898.6 491)"/>
<ellipse cx="927.3" cy="511.6" rx="3.5" ry="1.6" fill="#1e1e1e" transform="rotate(30 927.3 511.6)"/>
<line x1="908.9" y1="517.0" x2="917.0" y2="517.0" stroke="#1e1e1e" stroke-width="1.4"/>
<text x="218.9" y="197.4" font-family="'Liberation Sans', sans-serif" font-weight="bold" font-size="14.53" textLength="57.3" lengthAdjust="spacingAndGlyphs" fill="#2a2a2a" stroke="#222" stroke-width="0.35">AN/SRA-12</text>
<text x="352.5" y="146.4" font-family="'Liberation Sans', sans-serif" font-weight="bold" font-size="13.23" textLength="61.2" lengthAdjust="spacingAndGlyphs" fill="#2a2a2a" stroke="#222" stroke-width="0.35">SB-82/SRR</text>
<text x="565.4" y="198.6" font-family="'Liberation Sans', sans-serif" font-weight="bold" font-size="13.23" textLength="49.5" lengthAdjust="spacingAndGlyphs" fill="#2a2a2a" stroke="#222" stroke-width="0.35">AN/URA-8</text>
<text x="737.3" y="145.5" font-family="'Liberation Sans', sans-serif" font-weight="normal" font-size="13.23" textLength="47.9" lengthAdjust="spacingAndGlyphs" fill="#2a2a2a" stroke="#2a2a2a" stroke-width="0.55">AN/SGC-1</text>
<text x="578.0" y="332.7" font-family="'Liberation Sans', sans-serif" font-weight="bold" font-size="14.97" textLength="29.5" lengthAdjust="spacingAndGlyphs" fill="#2a2a2a" stroke="#222" stroke-width="0.35">TT-23</text>
<text x="616.9" y="332.5" font-family="'Liberation Sans', sans-serif" font-weight="bold" font-size="14.39" textLength="19.2" lengthAdjust="spacingAndGlyphs" fill="#2a2a2a" stroke="#222" stroke-width="0.35">/SG</text>
<text x="815.4" y="301.8" font-family="'Liberation Sans', sans-serif" font-weight="normal" font-size="15.55" textLength="57.3" lengthAdjust="spacingAndGlyphs" fill="#2a2a2a" stroke="#2a2a2a" stroke-width="0.55">SB-83/SRT</text>
<text x="166.4" y="464.1" font-family="'Liberation Sans', sans-serif" font-weight="bold" font-size="13.52" textLength="47.3" lengthAdjust="spacingAndGlyphs" fill="#222" stroke="#222" stroke-width="0.35">AN/SRR-11</text>
<text x="296.9" y="464.3" font-family="'Liberation Sans', sans-serif" font-weight="bold" font-size="14.39" textLength="49.5" lengthAdjust="spacingAndGlyphs" fill="#222" stroke="#222" stroke-width="0.35">AN/SRR-13</text>
<text x="407.7" y="467.7" font-family="'Liberation Sans', sans-serif" font-weight="bold" font-size="13.08" textLength="51.3" lengthAdjust="spacingAndGlyphs" fill="#222" stroke="#222" stroke-width="0.35">AN/URR-13</text>
<text x="726.7" y="473.6" font-family="'Liberation Sans', sans-serif" font-weight="normal" font-size="13.95" textLength="25.3" lengthAdjust="spacingAndGlyphs" fill="#2a2a2a" stroke="#2a2a2a" stroke-width="0.55">TED</text>
<text x="913.6" y="531.7" font-family="'Liberation Sans', sans-serif" font-weight="bold" font-size="14.24" textLength="62.5" lengthAdjust="spacingAndGlyphs" fill="#222" stroke="#222" stroke-width="0.35">AN/SRT-14</text>
<text x="490.3" y="501.2" font-family="'Liberation Sans', sans-serif" font-weight="bold" font-size="13.23" textLength="33.4" lengthAdjust="spacingAndGlyphs" fill="#2a2a2a" stroke="#222" stroke-width="0.35">STRAP</text>
<text x="482.2" y="521.4" font-family="'Liberation Sans', sans-serif" font-weight="bold" font-size="13.23" textLength="30.7" lengthAdjust="spacingAndGlyphs" fill="#2a2a2a" stroke="#222" stroke-width="0.35">STRAP</text>
<text x="615.8" y="506.0" font-family="'Liberation Sans', sans-serif" font-weight="bold" font-size="11.77" textLength="34.3" lengthAdjust="spacingAndGlyphs" fill="#2a2a2a" stroke="#222" stroke-width="0.35">TEST &amp;</text>
<text x="610.0" y="519.6" font-family="'Liberation Sans', sans-serif" font-weight="bold" font-size="13.23" textLength="33.8" lengthAdjust="spacingAndGlyphs" fill="#2a2a2a" stroke="#222" stroke-width="0.35">SHORE</text>
<text x="533.4" y="598.0" font-family="'Liberation Sans', sans-serif" font-weight="normal" font-size="13.23" textLength="70.7" lengthAdjust="spacingAndGlyphs" fill="#2a2a2a" stroke="#2a2a2a" stroke-width="0.25">C-1004A/SG</text>
<text x="372.5" y="672.0" font-family="'Liberation Sans', sans-serif" font-weight="normal" font-size="13.37" textLength="40.0" lengthAdjust="spacingAndGlyphs" fill="#2a2a2a" stroke="#2a2a2a" stroke-width="0.25">POWER</text>
<text x="420.5" y="672.0" font-family="'Liberation Sans', sans-serif" font-weight="normal" font-size="13.37" textLength="41.3" lengthAdjust="spacingAndGlyphs" fill="#2a2a2a" stroke="#2a2a2a" stroke-width="0.25">SUPPLY</text>
<text x="768.6" y="628.1" font-family="'Liberation Sans', sans-serif" font-weight="normal" font-size="12.79" textLength="55.9" lengthAdjust="spacingAndGlyphs" fill="#2a2a2a" stroke="#2a2a2a" stroke-width="0.55">TT-47/UG</text>
</svg></body></html>
